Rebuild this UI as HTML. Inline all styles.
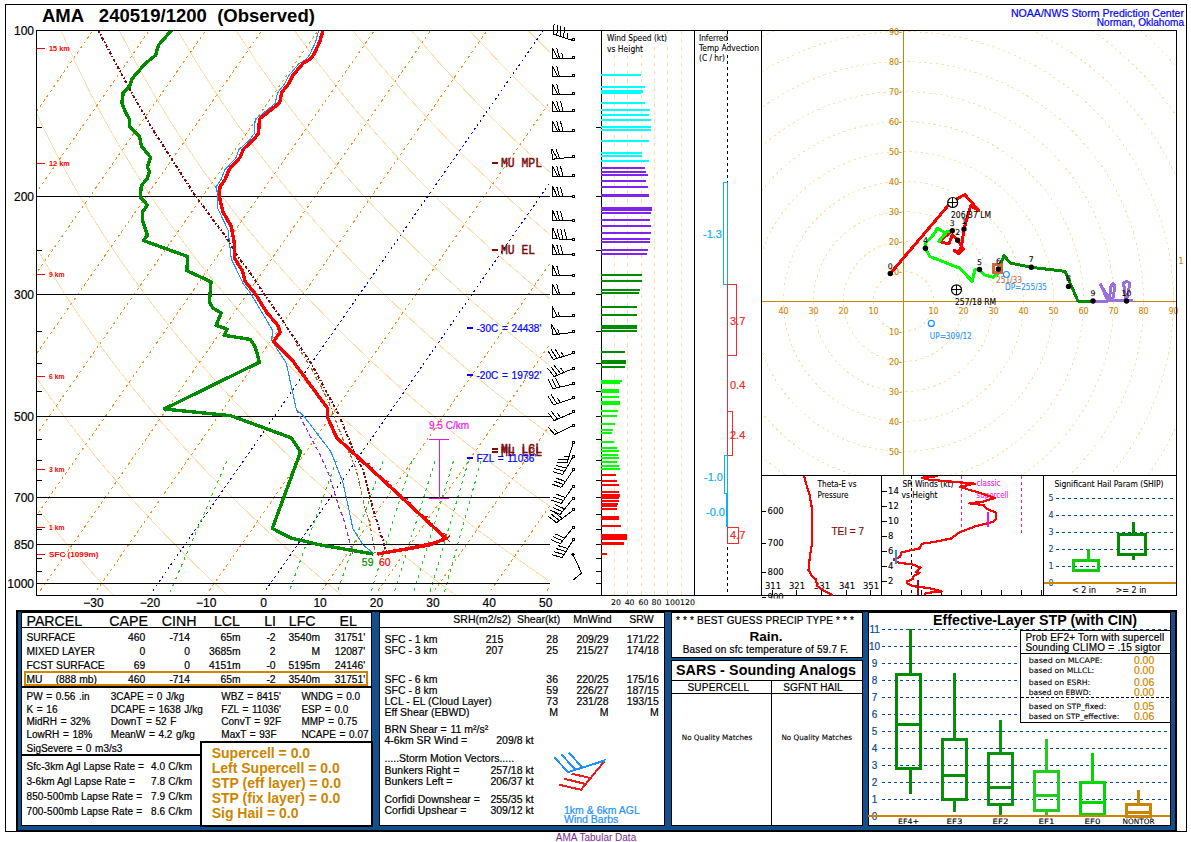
<!DOCTYPE html>
<html lang="en"><head><meta charset="utf-8"><title>AMA 240519/1200 (Observed)</title>
<style>
html,body{margin:0;padding:0;background:#fff;}
body{width:1191px;height:842px;overflow:hidden;}
svg{display:block;}
svg text{font-kerning:normal;}
.crisp{shape-rendering:crispEdges;}
</style></head><body>
<svg width="1191" height="842" viewBox="0 0 1191 842" shape-rendering="crispEdges">
<rect x="0" y="0" width="1191" height="842" fill="#fff"/>
<rect x="5.5" y="4.5" width="1181" height="827" fill="none" stroke="#000" stroke-width="1" class="crisp"/>
<text x="42" y="22" font-size="18.5" fill="#000" text-anchor="start" font-weight="bold" font-family="'Liberation Sans',sans-serif" xml:space="preserve" >AMA   240519/1200  (Observed)</text>
<text x="1184" y="17" font-size="10.6" fill="#0000ff" text-anchor="end" font-weight="normal" font-family="'Liberation Sans',sans-serif" xml:space="preserve" textLength="173" lengthAdjust="spacingAndGlyphs" stroke="#0000ff" stroke-width="0.2">NOAA/NWS Storm Prediction Center</text>
<text x="1184" y="26" font-size="10.4" fill="#0000ff" text-anchor="end" font-weight="normal" font-family="'Liberation Sans',sans-serif" xml:space="preserve" textLength="87.2" lengthAdjust="spacingAndGlyphs" stroke="#0000ff" stroke-width="0.2">Norman, Oklahoma</text>
<defs><clipPath id="skclip"><rect x="37" y="31" width="513" height="564"/></clipPath></defs>
<g clip-path="url(#skclip)">
<polyline points="-113.9,597.1 -116.2,593.7 -118.6,590.2 -120.9,586.7 -123.3,583.1 -125.7,579.5 -128.1,575.8 -130.6,572 -133,568.2 -135.5,564.4 -137.9,560.4 -140.4,556.4 -142.9,552.4 -145.5,548.2 -148,544 -150.6,539.8 -153.1,535.4 -155.7,531 -158.3,526.5 -161,521.9 -163.6,517.2 -166.3,512.4 -169,507.5 -171.7,502.5 -174.4,497.4 -177.2,492.2 -179.9,486.9 -182.7,481.4 -185.5,475.9 -188.3,470.2 -191.2,464.4 -194.1,458.4 -197,452.2 -199.9,445.9 -202.8,439.5 -205.8,432.8 -208.7,426 -211.7,419 -214.8,411.7 -217.8,404.3 -220.9,396.6 -224,388.6 -227.1,380.4 -230.2,371.8 -233.3,363 -236.5,353.8 -239.7,344.3 -242.9,334.3 -246.1,324 -249.3,313.1 -252.5,301.8 -255.7,289.8 -258.9,277.3 -262.1,264.1 -265.3,250.1 -268.4,235.2 -271.5,219.4 -274.5,202.4 -277.4,184.2 -280.1,164.4 -282.7,142.9 -285,119.2 -287,93 -288.4,63.6 -289.2,30" fill="none" stroke="#ffdead" stroke-width="1" />
<polyline points="0.6,597.1 -2.2,593.7 -5,590.2 -7.9,586.7 -10.7,583.1 -13.6,579.5 -16.5,575.8 -19.4,572 -22.4,568.2 -25.3,564.4 -28.3,560.4 -31.3,556.4 -34.4,552.4 -37.4,548.2 -40.5,544 -43.6,539.8 -46.7,535.4 -49.9,531 -53.1,526.5 -56.3,521.9 -59.5,517.2 -62.8,512.4 -66.1,507.5 -69.4,502.5 -72.7,497.4 -76.1,492.2 -79.5,486.9 -82.9,481.4 -86.4,475.9 -89.9,470.2 -93.4,464.4 -97,458.4 -100.6,452.2 -104.2,445.9 -107.9,439.5 -111.6,432.8 -115.3,426 -119.1,419 -122.9,411.7 -126.8,404.3 -130.7,396.6 -134.6,388.6 -138.6,380.4 -142.6,371.8 -146.7,363 -150.8,353.8 -154.9,344.3 -159.1,334.3 -163.3,324 -167.6,313.1 -171.9,301.8 -176.3,289.8 -180.7,277.3 -185.1,264.1 -189.5,250.1 -194,235.2 -198.4,219.4 -202.9,202.4 -207.3,184.2 -211.7,164.4 -216,142.9 -220.2,119.2 -224.1,93 -227.7,63.6 -230.8,30" fill="none" stroke="#ffdead" stroke-width="1" />
<polyline points="115.1,597.1 111.8,593.7 108.5,590.2 105.2,586.7 101.9,583.1 98.5,579.5 95.1,575.8 91.7,572 88.3,568.2 84.8,564.4 81.3,560.4 77.8,556.4 74.2,552.4 70.6,548.2 67,544 63.3,539.8 59.7,535.4 55.9,531 52.2,526.5 48.4,521.9 44.6,517.2 40.7,512.4 36.9,507.5 32.9,502.5 29,497.4 25,492.2 20.9,486.9 16.8,481.4 12.7,475.9 8.6,470.2 4.3,464.4 0.1,458.4 -4.2,452.2 -8.6,445.9 -13,439.5 -17.4,432.8 -21.9,426 -26.5,419 -31.1,411.7 -35.8,404.3 -40.5,396.6 -45.3,388.6 -50.1,380.4 -55,371.8 -60,363 -65.1,353.8 -70.2,344.3 -75.4,334.3 -80.6,324 -85.9,313.1 -91.3,301.8 -96.8,289.8 -102.4,277.3 -108,264.1 -113.7,250.1 -119.5,235.2 -125.4,219.4 -131.3,202.4 -137.3,184.2 -143.3,164.4 -149.3,142.9 -155.3,119.2 -161.2,93 -167,63.6 -172.5,30" fill="none" stroke="#ffdead" stroke-width="1" />
<polyline points="229.6,597.1 225.9,593.7 222.1,590.2 218.3,586.7 214.5,583.1 210.6,579.5 206.7,575.8 202.8,572 198.9,568.2 194.9,564.4 190.9,560.4 186.8,556.4 182.8,552.4 178.6,548.2 174.5,544 170.3,539.8 166,535.4 161.8,531 157.5,526.5 153.1,521.9 148.7,517.2 144.3,512.4 139.8,507.5 135.2,502.5 130.7,497.4 126,492.2 121.4,486.9 116.6,481.4 111.8,475.9 107,470.2 102.1,464.4 97.2,458.4 92.2,452.2 87.1,445.9 82,439.5 76.8,432.8 71.5,426 66.2,419 60.7,411.7 55.3,404.3 49.7,396.6 44.1,388.6 38.3,380.4 32.5,371.8 26.6,363 20.7,353.8 14.6,344.3 8.4,334.3 2.1,324 -4.3,313.1 -10.8,301.8 -17.4,289.8 -24.1,277.3 -31,264.1 -38,250.1 -45.1,235.2 -52.3,219.4 -59.7,202.4 -67.2,184.2 -74.8,164.4 -82.6,142.9 -90.4,119.2 -98.4,93 -106.3,63.6 -114.2,30" fill="none" stroke="#ffdead" stroke-width="1" />
<polyline points="344.1,597.1 339.9,593.7 335.7,590.2 331.4,586.7 327.1,583.1 322.7,579.5 318.4,575.8 314,572 309.5,568.2 305,564.4 300.5,560.4 295.9,556.4 291.3,552.4 286.7,548.2 282,544 277.2,539.8 272.4,535.4 267.6,531 262.7,526.5 257.8,521.9 252.8,517.2 247.8,512.4 242.7,507.5 237.6,502.5 232.4,497.4 227.1,492.2 221.8,486.9 216.4,481.4 211,475.9 205.5,470.2 199.9,464.4 194.2,458.4 188.5,452.2 182.7,445.9 176.9,439.5 170.9,432.8 164.9,426 158.8,419 152.6,411.7 146.3,404.3 139.9,396.6 133.4,388.6 126.8,380.4 120.1,371.8 113.3,363 106.4,353.8 99.3,344.3 92.2,334.3 84.9,324 77.4,313.1 69.8,301.8 62.1,289.8 54.2,277.3 46.1,264.1 37.8,250.1 29.4,235.2 20.8,219.4 11.9,202.4 2.9,184.2 -6.4,164.4 -15.9,142.9 -25.6,119.2 -35.5,93 -45.6,63.6 -55.9,30" fill="none" stroke="#ffdead" stroke-width="1" />
<polyline points="458.6,597.1 453.9,593.7 449.2,590.2 444.5,586.7 439.7,583.1 434.9,579.5 430,575.8 425.1,572 420.1,568.2 415.1,564.4 410.1,560.4 405,556.4 399.9,552.4 394.7,548.2 389.5,544 384.2,539.8 378.8,535.4 373.4,531 368,526.5 362.5,521.9 356.9,517.2 351.3,512.4 345.6,507.5 339.9,502.5 334,497.4 328.2,492.2 322.2,486.9 316.2,481.4 310.1,475.9 303.9,470.2 297.7,464.4 291.3,458.4 284.9,452.2 278.4,445.9 271.8,439.5 265.1,432.8 258.3,426 251.4,419 244.4,411.7 237.3,404.3 230.1,396.6 222.8,388.6 215.3,380.4 207.7,371.8 200,363 192.1,353.8 184.1,344.3 175.9,334.3 167.6,324 159.1,313.1 150.4,301.8 141.5,289.8 132.4,277.3 123.1,264.1 113.6,250.1 103.8,235.2 93.8,219.4 83.5,202.4 72.9,184.2 62,164.4 50.8,142.9 39.3,119.2 27.3,93 15.1,63.6 2.5,30" fill="none" stroke="#ffdead" stroke-width="1" />
<polyline points="573.1,597.1 567.9,593.7 562.8,590.2 557.5,586.7 552.3,583.1 547,579.5 541.6,575.8 536.2,572 530.8,568.2 525.3,564.4 519.7,560.4 514.1,556.4 508.4,552.4 502.7,548.2 496.9,544 491.1,539.8 485.2,535.4 479.3,531 473.3,526.5 467.2,521.9 461,517.2 454.8,512.4 448.5,507.5 442.2,502.5 435.7,497.4 429.2,492.2 422.6,486.9 416,481.4 409.2,475.9 402.4,470.2 395.4,464.4 388.4,458.4 381.3,452.2 374,445.9 366.7,439.5 359.3,432.8 351.7,426 344.1,419 336.3,411.7 328.3,404.3 320.3,396.6 312.1,388.6 303.8,380.4 295.3,371.8 286.6,363 277.8,353.8 268.9,344.3 259.7,334.3 250.3,324 240.8,313.1 231,301.8 221,289.8 210.7,277.3 200.2,264.1 189.4,250.1 178.3,235.2 166.9,219.4 155.1,202.4 143,184.2 130.5,164.4 117.5,142.9 104.1,119.2 90.2,93 75.8,63.6 60.8,30" fill="none" stroke="#ffdead" stroke-width="1" />
<polyline points="687.6,597.1 682,593.7 676.3,590.2 670.6,586.7 664.9,583.1 659.1,579.5 653.2,575.8 647.3,572 641.4,568.2 635.4,564.4 629.3,560.4 623.2,556.4 617,552.4 610.8,548.2 604.4,544 598.1,539.8 591.6,535.4 585.1,531 578.5,526.5 571.9,521.9 565.1,517.2 558.3,512.4 551.4,507.5 544.5,502.5 537.4,497.4 530.3,492.2 523.1,486.9 515.7,481.4 508.3,475.9 500.8,470.2 493.2,464.4 485.5,458.4 477.6,452.2 469.7,445.9 461.6,439.5 453.4,432.8 445.1,426 436.7,419 428.1,411.7 419.4,404.3 410.5,396.6 401.4,388.6 392.2,380.4 382.9,371.8 373.3,363 363.6,353.8 353.6,344.3 343.4,334.3 333.1,324 322.4,313.1 311.5,301.8 300.4,289.8 289,277.3 277.2,264.1 265.1,250.1 252.7,235.2 239.9,219.4 226.7,202.4 213,184.2 198.9,164.4 184.2,142.9 169,119.2 153.1,93 136.5,63.6 119.1,30" fill="none" stroke="#ffdead" stroke-width="1" />
<polyline points="802.1,597.1 796,593.7 789.9,590.2 783.7,586.7 777.5,583.1 771.2,579.5 764.9,575.8 758.5,572 752,568.2 745.5,564.4 738.9,560.4 732.3,556.4 725.6,552.4 718.8,548.2 711.9,544 705,539.8 698,535.4 690.9,531 683.8,526.5 676.6,521.9 669.2,517.2 661.8,512.4 654.4,507.5 646.8,502.5 639.1,497.4 631.3,492.2 623.5,486.9 615.5,481.4 607.4,475.9 599.3,470.2 591,464.4 582.5,458.4 574,452.2 565.3,445.9 556.6,439.5 547.6,432.8 538.5,426 529.3,419 519.9,411.7 510.4,404.3 500.7,396.6 490.8,388.6 480.7,380.4 470.4,371.8 460,363 449.3,353.8 438.4,344.3 427.2,334.3 415.8,324 404.1,313.1 392.1,301.8 379.8,289.8 367.2,277.3 354.3,264.1 340.9,250.1 327.2,235.2 313,219.4 298.3,202.4 283.1,184.2 267.3,164.4 250.9,142.9 233.8,119.2 215.9,93 197.2,63.6 177.4,30" fill="none" stroke="#ffdead" stroke-width="1" />
<polyline points="916.5,597.1 910,593.7 903.4,590.2 896.8,586.7 890.1,583.1 883.3,579.5 876.5,575.8 869.6,572 862.6,568.2 855.6,564.4 848.5,560.4 841.4,556.4 834.1,552.4 826.8,548.2 819.4,544 812,539.8 804.4,535.4 796.8,531 789.1,526.5 781.3,521.9 773.4,517.2 765.4,512.4 757.3,507.5 749.1,502.5 740.8,497.4 732.4,492.2 723.9,486.9 715.3,481.4 706.6,475.9 697.7,470.2 688.7,464.4 679.6,458.4 670.4,452.2 661,445.9 651.5,439.5 641.8,432.8 632,426 621.9,419 611.8,411.7 601.4,404.3 590.9,396.6 580.1,388.6 569.2,380.4 558,371.8 546.6,363 535,353.8 523.1,344.3 511,334.3 498.5,324 485.8,313.1 472.7,301.8 459.3,289.8 445.5,277.3 431.3,264.1 416.7,250.1 401.6,235.2 386,219.4 369.9,202.4 353.2,184.2 335.8,164.4 317.6,142.9 298.7,119.2 278.8,93 257.9,63.6 235.7,30" fill="none" stroke="#ffdead" stroke-width="1" />
<polyline points="1031,597.1 1024,593.7 1017,590.2 1009.9,586.7 1002.7,583.1 995.4,579.5 988.1,575.8 980.7,572 973.3,568.2 965.7,564.4 958.1,560.4 950.4,556.4 942.7,552.4 934.8,548.2 926.9,544 918.9,539.8 910.8,535.4 902.6,531 894.3,526.5 885.9,521.9 877.5,517.2 868.9,512.4 860.2,507.5 851.4,502.5 842.5,497.4 833.5,492.2 824.3,486.9 815.1,481.4 805.7,475.9 796.2,470.2 786.5,464.4 776.7,458.4 766.8,452.2 756.7,445.9 746.4,439.5 736,432.8 725.4,426 714.6,419 703.6,411.7 692.4,404.3 681.1,396.6 669.5,388.6 657.7,380.4 645.6,371.8 633.3,363 620.7,353.8 607.9,344.3 594.7,334.3 581.3,324 567.4,313.1 553.3,301.8 538.7,289.8 523.8,277.3 508.4,264.1 492.5,250.1 476.1,235.2 459.1,219.4 441.5,202.4 423.2,184.2 404.2,164.4 384.3,142.9 363.5,119.2 341.7,93 318.6,63.6 294.1,30" fill="none" stroke="#ffdead" stroke-width="1" />
<polyline points="1145.5,597.1 1138.1,593.7 1130.5,590.2 1122.9,586.7 1115.3,583.1 1107.6,579.5 1099.7,575.8 1091.9,572 1083.9,568.2 1075.9,564.4 1067.7,560.4 1059.5,556.4 1051.2,552.4 1042.9,548.2 1034.4,544 1025.8,539.8 1017.2,535.4 1008.4,531 999.6,526.5 990.6,521.9 981.6,517.2 972.4,512.4 963.1,507.5 953.7,502.5 944.2,497.4 934.5,492.2 924.8,486.9 914.9,481.4 904.8,475.9 894.6,470.2 884.3,464.4 873.8,458.4 863.1,452.2 852.3,445.9 841.3,439.5 830.1,432.8 818.8,426 807.2,419 795.5,411.7 783.5,404.3 771.3,396.6 758.8,388.6 746.1,380.4 733.2,371.8 720,363 706.5,353.8 692.6,344.3 678.5,334.3 664,324 649.1,313.1 633.9,301.8 618.2,289.8 602,277.3 585.4,264.1 568.2,250.1 550.5,235.2 532.2,219.4 513.1,202.4 493.3,184.2 472.6,164.4 451,142.9 428.4,119.2 404.5,93 379.3,63.6 352.4,30" fill="none" stroke="#ffdead" stroke-width="1" />
<polyline points="1260,597.1 1252.1,593.7 1244.1,590.2 1236,586.7 1227.9,583.1 1219.7,579.5 1211.4,575.8 1203,572 1194.5,568.2 1186,564.4 1177.3,560.4 1168.6,556.4 1159.8,552.4 1150.9,548.2 1141.9,544 1132.8,539.8 1123.6,535.4 1114.3,531 1104.9,526.5 1095.3,521.9 1085.7,517.2 1075.9,512.4 1066,507.5 1056,502.5 1045.9,497.4 1035.6,492.2 1025.2,486.9 1014.6,481.4 1003.9,475.9 993.1,470.2 982,464.4 970.9,458.4 959.5,452.2 948,445.9 936.2,439.5 924.3,432.8 912.2,426 899.8,419 887.3,411.7 874.5,404.3 861.5,396.6 848.2,388.6 834.6,380.4 820.8,371.8 806.6,363 792.2,353.8 777.4,344.3 762.2,334.3 746.7,324 730.8,313.1 714.4,301.8 697.6,289.8 680.3,277.3 662.5,264.1 644,250.1 625,235.2 605.2,219.4 584.7,202.4 563.3,184.2 541.1,164.4 517.7,142.9 493.2,119.2 467.4,93 440,63.6 410.7,30" fill="none" stroke="#ffdead" stroke-width="1" />
<polyline points="1374.5,597.1 1366.1,593.7 1357.7,590.2 1349.1,586.7 1340.5,583.1 1331.8,579.5 1323,575.8 1314.1,572 1305.2,568.2 1296.1,564.4 1287,560.4 1277.7,556.4 1268.4,552.4 1258.9,548.2 1249.4,544 1239.7,539.8 1230,535.4 1220.1,531 1210.1,526.5 1200,521.9 1189.8,517.2 1179.4,512.4 1168.9,507.5 1158.3,502.5 1147.6,497.4 1136.7,492.2 1125.6,486.9 1114.4,481.4 1103,475.9 1091.5,470.2 1079.8,464.4 1067.9,458.4 1055.9,452.2 1043.6,445.9 1031.1,439.5 1018.5,432.8 1005.6,426 992.5,419 979.1,411.7 965.5,404.3 951.7,396.6 937.5,388.6 923.1,380.4 908.4,371.8 893.3,363 877.9,353.8 862.1,344.3 846,334.3 829.4,324 812.5,313.1 795,301.8 777.1,289.8 758.6,277.3 739.5,264.1 719.8,250.1 699.4,235.2 678.3,219.4 656.3,202.4 633.4,184.2 609.5,164.4 584.4,142.9 558.1,119.2 530.2,93 500.7,63.6 469,30" fill="none" stroke="#ffdead" stroke-width="1" />
<polyline points="1489,597.1 1480.1,593.7 1471.2,590.2 1462.2,586.7 1453.1,583.1 1443.9,579.5 1434.6,575.8 1425.2,572 1415.8,568.2 1406.2,564.4 1396.6,560.4 1386.8,556.4 1376.9,552.4 1367,548.2 1356.9,544 1346.7,539.8 1336.4,535.4 1325.9,531 1315.4,526.5 1304.7,521.9 1293.9,517.2 1283,512.4 1271.9,507.5 1260.6,502.5 1249.3,497.4 1237.7,492.2 1226,486.9 1214.2,481.4 1202.2,475.9 1190,470.2 1177.6,464.4 1165,458.4 1152.2,452.2 1139.3,445.9 1126.1,439.5 1112.7,432.8 1099,426 1085.1,419 1071,411.7 1056.6,404.3 1041.9,396.6 1026.9,388.6 1011.6,380.4 995.9,371.8 980,363 963.6,353.8 946.9,344.3 929.8,334.3 912.2,324 894.1,313.1 875.6,301.8 856.5,289.8 836.8,277.3 816.5,264.1 795.6,250.1 773.9,235.2 751.3,219.4 727.9,202.4 703.5,184.2 677.9,164.4 651.1,142.9 622.9,119.2 593.1,93 561.3,63.6 527.3,30" fill="none" stroke="#ffdead" stroke-width="1" />
<polyline points="1603.5,597.1 1594.2,593.7 1584.8,590.2 1575.3,586.7 1565.7,583.1 1556,579.5 1546.2,575.8 1536.4,572 1526.4,568.2 1516.3,564.4 1506.2,560.4 1495.9,556.4 1485.5,552.4 1475,548.2 1464.4,544 1453.6,539.8 1442.8,535.4 1431.8,531 1420.7,526.5 1409.4,521.9 1398,517.2 1386.5,512.4 1374.8,507.5 1362.9,502.5 1351,497.4 1338.8,492.2 1326.5,486.9 1314,481.4 1301.3,475.9 1288.4,470.2 1275.4,464.4 1262.1,458.4 1248.6,452.2 1234.9,445.9 1221,439.5 1206.8,432.8 1192.4,426 1177.7,419 1162.8,411.7 1147.6,404.3 1132.1,396.6 1116.2,388.6 1100,380.4 1083.5,371.8 1066.6,363 1049.3,353.8 1031.7,344.3 1013.5,334.3 994.9,324 975.8,313.1 956.2,301.8 935.9,289.8 915.1,277.3 893.6,264.1 871.3,250.1 848.3,235.2 824.4,219.4 799.5,202.4 773.5,184.2 746.4,164.4 717.9,142.9 687.8,119.2 656,93 622,63.6 585.7,30" fill="none" stroke="#ffdead" stroke-width="1" />
<polyline points="1718,597.1 1708.2,593.7 1698.3,590.2 1688.3,586.7 1678.3,583.1 1668.1,579.5 1657.9,575.8 1647.5,572 1637,568.2 1626.5,564.4 1615.8,560.4 1605,556.4 1594.1,552.4 1583,548.2 1571.9,544 1560.6,539.8 1549.2,535.4 1537.6,531 1525.9,526.5 1514.1,521.9 1502.1,517.2 1490,512.4 1477.7,507.5 1465.3,502.5 1452.6,497.4 1439.9,492.2 1426.9,486.9 1413.7,481.4 1400.4,475.9 1386.9,470.2 1373.1,464.4 1359.2,458.4 1345,452.2 1330.6,445.9 1315.9,439.5 1301,432.8 1285.8,426 1270.4,419 1254.6,411.7 1238.6,404.3 1222.2,396.6 1205.6,388.6 1188.5,380.4 1171.1,371.8 1153.3,363 1135.1,353.8 1116.4,344.3 1097.3,334.3 1077.6,324 1057.5,313.1 1036.7,301.8 1015.4,289.8 993.4,277.3 970.6,264.1 947.1,250.1 922.7,235.2 897.4,219.4 871.1,202.4 843.6,184.2 814.8,164.4 784.6,142.9 752.6,119.2 718.8,93 682.7,63.6 644,30" fill="none" stroke="#ffdead" stroke-width="1" />
<polyline points="1832.5,597.1 1822.2,593.7 1811.9,590.2 1801.4,586.7 1790.9,583.1 1780.2,579.5 1769.5,575.8 1758.6,572 1747.7,568.2 1736.6,564.4 1725.4,560.4 1714.1,556.4 1702.6,552.4 1691,548.2 1679.4,544 1667.5,539.8 1655.6,535.4 1643.4,531 1631.2,526.5 1618.8,521.9 1606.2,517.2 1593.5,512.4 1580.6,507.5 1567.6,502.5 1554.3,497.4 1540.9,492.2 1527.3,486.9 1513.5,481.4 1499.5,475.9 1485.3,470.2 1470.9,464.4 1456.2,458.4 1441.4,452.2 1426.2,445.9 1410.8,439.5 1395.2,432.8 1379.2,426 1363,419 1346.5,411.7 1329.6,404.3 1312.4,396.6 1294.9,388.6 1277,380.4 1258.7,371.8 1240,363 1220.8,353.8 1201.2,344.3 1181,334.3 1160.4,324 1139.2,313.1 1117.3,301.8 1094.8,289.8 1071.6,277.3 1047.7,264.1 1022.9,250.1 997.2,235.2 970.5,219.4 942.7,202.4 913.6,184.2 883.2,164.4 851.3,142.9 817.5,119.2 781.7,93 743.4,63.6 702.3,30" fill="none" stroke="#ffdead" stroke-width="1" />
<polyline points="1947,597.1 1936.2,593.7 1925.4,590.2 1914.5,586.7 1903.5,583.1 1892.4,579.5 1881.1,575.8 1869.8,572 1858.3,568.2 1846.7,564.4 1835,560.4 1823.1,556.4 1811.2,552.4 1799.1,548.2 1786.8,544 1774.5,539.8 1761.9,535.4 1749.3,531 1736.5,526.5 1723.5,521.9 1710.3,517.2 1697,512.4 1683.5,507.5 1669.9,502.5 1656,497.4 1642,492.2 1627.7,486.9 1613.3,481.4 1598.6,475.9 1583.8,470.2 1568.7,464.4 1553.3,458.4 1537.7,452.2 1521.9,445.9 1505.7,439.5 1489.3,432.8 1472.7,426 1455.6,419 1438.3,411.7 1420.7,404.3 1402.6,396.6 1384.2,388.6 1365.5,380.4 1346.3,371.8 1326.6,363 1306.5,353.8 1285.9,344.3 1264.8,334.3 1243.1,324 1220.8,313.1 1197.9,301.8 1174.3,289.8 1149.9,277.3 1124.7,264.1 1098.7,250.1 1071.6,235.2 1043.5,219.4 1014.3,202.4 983.7,184.2 951.7,164.4 918,142.9 882.4,119.2 844.5,93 804.1,63.6 760.6,30" fill="none" stroke="#ffdead" stroke-width="1" />
<polyline points="2061.4,597.1 2050.3,593.7 2039,590.2 2027.6,586.7 2016.1,583.1 2004.5,579.5 1992.7,575.8 1980.9,572 1968.9,568.2 1956.8,564.4 1944.6,560.4 1932.2,556.4 1919.7,552.4 1907.1,548.2 1894.3,544 1881.4,539.8 1868.3,535.4 1855.1,531 1841.7,526.5 1828.2,521.9 1814.4,517.2 1800.5,512.4 1786.5,507.5 1772.2,502.5 1757.7,497.4 1743,492.2 1728.2,486.9 1713.1,481.4 1697.8,475.9 1682.2,470.2 1666.4,464.4 1650.4,458.4 1634.1,452.2 1617.5,445.9 1600.7,439.5 1583.5,432.8 1566.1,426 1548.3,419 1530.2,411.7 1511.7,404.3 1492.8,396.6 1473.6,388.6 1453.9,380.4 1433.8,371.8 1413.3,363 1392.2,353.8 1370.7,344.3 1348.6,334.3 1325.8,324 1302.5,313.1 1278.5,301.8 1253.7,289.8 1228.2,277.3 1201.8,264.1 1174.4,250.1 1146.1,235.2 1116.6,219.4 1085.9,202.4 1053.8,184.2 1020.1,164.4 984.7,142.9 947.2,119.2 907.4,93 864.8,63.6 819,30" fill="none" stroke="#ffdead" stroke-width="1" />
<polyline points="2175.9,597.1 2164.3,593.7 2152.5,590.2 2140.7,586.7 2128.7,583.1 2116.6,579.5 2104.4,575.8 2092,572 2079.5,568.2 2066.9,564.4 2054.2,560.4 2041.3,556.4 2028.3,552.4 2015.1,548.2 2001.8,544 1988.4,539.8 1974.7,535.4 1960.9,531 1947,526.5 1932.9,521.9 1918.5,517.2 1904.1,512.4 1889.4,507.5 1874.5,502.5 1859.4,497.4 1844.1,492.2 1828.6,486.9 1812.9,481.4 1796.9,475.9 1780.7,470.2 1764.2,464.4 1747.5,458.4 1730.5,452.2 1713.2,445.9 1695.6,439.5 1677.7,432.8 1659.5,426 1640.9,419 1622,411.7 1602.7,404.3 1583,396.6 1562.9,388.6 1542.4,380.4 1521.4,371.8 1500,363 1478,353.8 1455.4,344.3 1432.3,334.3 1408.6,324 1384.2,313.1 1359.1,301.8 1333.2,289.8 1306.4,277.3 1278.8,264.1 1250.2,250.1 1220.5,235.2 1189.7,219.4 1157.5,202.4 1123.8,184.2 1088.5,164.4 1051.4,142.9 1012.1,119.2 970.3,93 925.5,63.6 877.3,30" fill="none" stroke="#ffdead" stroke-width="1" />
<polyline points="2290.4,597.1 2278.3,593.7 2266.1,590.2 2253.7,586.7 2241.3,583.1 2228.7,579.5 2216,575.8 2203.1,572 2190.2,568.2 2177.1,564.4 2163.8,560.4 2150.4,556.4 2136.9,552.4 2123.2,548.2 2109.3,544 2095.3,539.8 2081.1,535.4 2066.8,531 2052.3,526.5 2037.5,521.9 2022.7,517.2 2007.6,512.4 1992.3,507.5 1976.8,502.5 1961.1,497.4 1945.2,492.2 1929,486.9 1912.6,481.4 1896,475.9 1879.1,470.2 1862,464.4 1844.5,458.4 1826.8,452.2 1808.8,445.9 1790.5,439.5 1771.9,432.8 1752.9,426 1733.5,419 1713.8,411.7 1693.7,404.3 1673.2,396.6 1652.3,388.6 1630.9,380.4 1609,371.8 1586.6,363 1563.7,353.8 1540.2,344.3 1516.1,334.3 1491.3,324 1465.8,313.1 1439.6,301.8 1412.6,289.8 1384.7,277.3 1355.9,264.1 1326,250.1 1295,235.2 1262.7,219.4 1229.1,202.4 1193.9,184.2 1157,164.4 1118.1,142.9 1076.9,119.2 1033.1,93 986.2,63.6 935.6,30" fill="none" stroke="#ffdead" stroke-width="1" />
<line x1="-691.5" y1="590.5" x2="-300.8" y2="30" stroke="#ff8c14" stroke-width="1.0" stroke-dasharray="2.6 3.3"/>
<line x1="-635.2" y1="590.5" x2="-244.5" y2="30" stroke="#ff8c14" stroke-width="1.0" stroke-dasharray="2.6 3.3"/>
<line x1="-578.9" y1="590.5" x2="-188.2" y2="30" stroke="#ff8c14" stroke-width="1.0" stroke-dasharray="2.6 3.3"/>
<line x1="-522.6" y1="590.5" x2="-131.9" y2="30" stroke="#ff8c14" stroke-width="1.0" stroke-dasharray="2.6 3.3"/>
<line x1="-466.3" y1="590.5" x2="-75.6" y2="30" stroke="#ff8c14" stroke-width="1.0" stroke-dasharray="2.6 3.3"/>
<line x1="-410" y1="590.5" x2="-19.3" y2="30" stroke="#ff8c14" stroke-width="1.0" stroke-dasharray="2.6 3.3"/>
<line x1="-353.7" y1="590.5" x2="37" y2="30" stroke="#ff8c14" stroke-width="1.0" stroke-dasharray="2.6 3.3"/>
<line x1="-297.4" y1="590.5" x2="93.3" y2="30" stroke="#ff8c14" stroke-width="1.0" stroke-dasharray="2.6 3.3"/>
<line x1="-241.1" y1="590.5" x2="149.6" y2="30" stroke="#ff8c14" stroke-width="1.0" stroke-dasharray="2.6 3.3"/>
<line x1="-184.8" y1="590.5" x2="205.9" y2="30" stroke="#ff8c14" stroke-width="1.0" stroke-dasharray="2.6 3.3"/>
<line x1="-128.5" y1="590.5" x2="262.2" y2="30" stroke="#ff8c14" stroke-width="1.0" stroke-dasharray="2.6 3.3"/>
<line x1="-72.2" y1="590.5" x2="318.5" y2="30" stroke="#ff8c14" stroke-width="1.0" stroke-dasharray="2.6 3.3"/>
<line x1="-15.9" y1="590.5" x2="374.8" y2="30" stroke="#ff8c14" stroke-width="1.0" stroke-dasharray="2.6 3.3"/>
<line x1="40.4" y1="590.5" x2="431.1" y2="30" stroke="#ff8c14" stroke-width="1.0" stroke-dasharray="2.6 3.3"/>
<line x1="96.7" y1="590.5" x2="487.4" y2="30" stroke="#ff8c14" stroke-width="1.0" stroke-dasharray="2.6 3.3"/>
<line x1="153" y1="590.5" x2="543.7" y2="30" stroke="#0000ff" stroke-width="1.0" stroke-dasharray="2.2 3"/>
<line x1="209.3" y1="590.5" x2="600" y2="30" stroke="#ff8c14" stroke-width="1.0" stroke-dasharray="2.6 3.3"/>
<line x1="265.6" y1="590.5" x2="656.3" y2="30" stroke="#0000ff" stroke-width="1.0" stroke-dasharray="2.2 3"/>
<line x1="321.9" y1="590.5" x2="712.6" y2="30" stroke="#ff8c14" stroke-width="1.0" stroke-dasharray="2.6 3.3"/>
<line x1="378.2" y1="590.5" x2="768.9" y2="30" stroke="#ff8c14" stroke-width="1.0" stroke-dasharray="2.6 3.3"/>
<line x1="434.5" y1="590.5" x2="825.2" y2="30" stroke="#ff8c14" stroke-width="1.0" stroke-dasharray="2.6 3.3"/>
<line x1="490.8" y1="590.5" x2="881.5" y2="30" stroke="#ff8c14" stroke-width="1.0" stroke-dasharray="2.6 3.3"/>
<line x1="547.1" y1="590.5" x2="937.8" y2="30" stroke="#ff8c14" stroke-width="1.0" stroke-dasharray="2.6 3.3"/>
<line x1="226.8" y1="461" x2="169.5" y2="593.5" stroke="#1fcf1f" stroke-width="1.05" stroke-dasharray="3 4"/>
<line x1="336.2" y1="461" x2="288.5" y2="593.5" stroke="#1fcf1f" stroke-width="1.05" stroke-dasharray="3 4"/>
<line x1="383" y1="461" x2="336.7" y2="593.5" stroke="#1fcf1f" stroke-width="1.05" stroke-dasharray="3 4"/>
<line x1="411.8" y1="461" x2="370.5" y2="593.5" stroke="#1fcf1f" stroke-width="1.05" stroke-dasharray="3 4"/>
<line x1="435" y1="461" x2="394" y2="593.5" stroke="#1fcf1f" stroke-width="1.05" stroke-dasharray="3 4"/>
<line x1="453.5" y1="461" x2="413.2" y2="593.5" stroke="#1fcf1f" stroke-width="1.05" stroke-dasharray="3 4"/>
<line x1="468.5" y1="461" x2="429.5" y2="593.5" stroke="#1fcf1f" stroke-width="1.05" stroke-dasharray="3 4"/>
<line x1="481" y1="461" x2="444" y2="593.5" stroke="#1fcf1f" stroke-width="1.05" stroke-dasharray="3 4"/>
</g>
<rect x="36" y="196" width="514" height="1" fill="#000" />
<rect x="36" y="294" width="514" height="1" fill="#000" />
<rect x="36" y="416" width="514" height="1" fill="#000" />
<rect x="36" y="497" width="514" height="1" fill="#000" />
<rect x="36" y="544" width="514" height="1" fill="#000" />
<rect x="36" y="583" width="514" height="1" fill="#000" />
<rect x="36" y="30" width="1141" height="1" fill="#000" />
<rect x="36" y="30" width="1" height="565" fill="#000" />
<rect x="36" y="595" width="565" height="1" fill="#000" />
<rect x="36" y="127" width="6" height="1" fill="#000" />
<rect x="36" y="250" width="6" height="1" fill="#000" />
<rect x="36" y="331" width="6" height="1" fill="#000" />
<rect x="36" y="363" width="6" height="1" fill="#000" />
<rect x="36" y="391" width="6" height="1" fill="#000" />
<rect x="36" y="439" width="6" height="1" fill="#000" />
<rect x="36" y="460" width="6" height="1" fill="#000" />
<rect x="36" y="480" width="6" height="1" fill="#000" />
<rect x="36" y="514" width="6" height="1" fill="#000" />
<rect x="36" y="529" width="6" height="1" fill="#000" />
<rect x="36" y="558" width="6" height="1" fill="#000" />
<rect x="36" y="571" width="6" height="1" fill="#000" />
<text x="34" y="35" font-size="12" fill="#000" text-anchor="end" font-weight="normal" font-family="'Liberation Sans',sans-serif" xml:space="preserve"  stroke="#000" stroke-width="0.2">100</text>
<text x="34" y="201" font-size="12" fill="#000" text-anchor="end" font-weight="normal" font-family="'Liberation Sans',sans-serif" xml:space="preserve"  stroke="#000" stroke-width="0.2">200</text>
<text x="34" y="299" font-size="12" fill="#000" text-anchor="end" font-weight="normal" font-family="'Liberation Sans',sans-serif" xml:space="preserve"  stroke="#000" stroke-width="0.2">300</text>
<text x="34" y="421" font-size="12" fill="#000" text-anchor="end" font-weight="normal" font-family="'Liberation Sans',sans-serif" xml:space="preserve"  stroke="#000" stroke-width="0.2">500</text>
<text x="34" y="502" font-size="12" fill="#000" text-anchor="end" font-weight="normal" font-family="'Liberation Sans',sans-serif" xml:space="preserve"  stroke="#000" stroke-width="0.2">700</text>
<text x="34" y="549" font-size="12" fill="#000" text-anchor="end" font-weight="normal" font-family="'Liberation Sans',sans-serif" xml:space="preserve"  stroke="#000" stroke-width="0.2">850</text>
<text x="34" y="588" font-size="12" fill="#000" text-anchor="end" font-weight="normal" font-family="'Liberation Sans',sans-serif" xml:space="preserve"  stroke="#000" stroke-width="0.2">1000</text>
<text x="93.5" y="607" font-size="12" fill="#000" text-anchor="middle" font-weight="normal" font-family="'Liberation Sans',sans-serif" xml:space="preserve"  stroke="#000" stroke-width="0.2">−30</text>
<text x="149.9" y="607" font-size="12" fill="#000" text-anchor="middle" font-weight="normal" font-family="'Liberation Sans',sans-serif" xml:space="preserve"  stroke="#000" stroke-width="0.2">−20</text>
<text x="206.3" y="607" font-size="12" fill="#000" text-anchor="middle" font-weight="normal" font-family="'Liberation Sans',sans-serif" xml:space="preserve"  stroke="#000" stroke-width="0.2">−10</text>
<text x="263.7" y="607" font-size="12" fill="#000" text-anchor="middle" font-weight="normal" font-family="'Liberation Sans',sans-serif" xml:space="preserve"  stroke="#000" stroke-width="0.2">0</text>
<text x="320.1" y="607" font-size="12" fill="#000" text-anchor="middle" font-weight="normal" font-family="'Liberation Sans',sans-serif" xml:space="preserve"  stroke="#000" stroke-width="0.2">10</text>
<text x="376.5" y="607" font-size="12" fill="#000" text-anchor="middle" font-weight="normal" font-family="'Liberation Sans',sans-serif" xml:space="preserve"  stroke="#000" stroke-width="0.2">20</text>
<text x="432.9" y="607" font-size="12" fill="#000" text-anchor="middle" font-weight="normal" font-family="'Liberation Sans',sans-serif" xml:space="preserve"  stroke="#000" stroke-width="0.2">30</text>
<text x="489.3" y="607" font-size="12" fill="#000" text-anchor="middle" font-weight="normal" font-family="'Liberation Sans',sans-serif" xml:space="preserve"  stroke="#000" stroke-width="0.2">40</text>
<text x="545.7" y="607" font-size="12" fill="#000" text-anchor="middle" font-weight="normal" font-family="'Liberation Sans',sans-serif" xml:space="preserve"  stroke="#000" stroke-width="0.2">50</text>
<g clip-path="url(#skclip)">
<polyline points="296.4,409.6 313.7,443 320.7,456 328.8,474.3 339.8,509.6 342.9,516.7 353,554" fill="none" stroke="#9b30d8" stroke-width="1.2" stroke-dasharray="4 3"/>
<polyline points="318.7,30.5 315.7,41.6 309.7,54.8 305.6,59.8 298.6,63.9 288.5,76 284.4,84 277.4,93.1 275.3,103.2 269.3,108.3 255.2,119.4 254.2,133.5 250.1,139.5 239,149.6 236,157.7 224.9,169.8 220.8,179.9 215.8,187 217,190 217.7,208.2 228.2,230.4 231.2,258.6 243.3,283.9 250.4,293 272.6,330.3 271.6,340.4 286.3,363.2 296.4,409.6 303.5,415.7 329.7,450 331.8,454 342.9,482.4 348.9,509.6 353,528.8 363.1,545 374.2,554" fill="none" stroke="#1e90ff" stroke-width="1.1" />
<polyline points="296,344 310,366 328,400 341.9,436.9 352,459 356,469.2 361,490.5 365.1,509.6 369.2,520.7 375.2,553" fill="none" stroke="#b4641e" stroke-width="1.2" stroke-dasharray="4 2 1.5 2"/>
<polyline points="98,30 128.3,86.6 150.5,126 193.9,193.6 229.2,241.5 234.2,251.6 249.4,271.8 263.5,293 281.7,319.2 301.9,349.5 311.6,364.2 338.8,414.7 354,452 363.1,470.3 371.2,502.6 386.3,552" fill="none" stroke="#7a0d0d" stroke-width="2" stroke-dasharray="3.2 1.8 1.4 1.8"/>
<polyline points="171.7,30 158.5,45.2 155.5,55.3 145.4,63.4 132.3,78.5 129.3,86.6 123.2,92.6 121.8,102.7 125.2,111.8 129.3,118.9 129.9,126.9 139.4,136 141.4,146.1 150.5,157.2 147.4,167.3 149.5,171.3 147.4,178.4 141.4,185.5 140.4,194.6 140.4,197 147.4,205.1 142.4,212.2 142.4,220.3 147.4,235.4 143.4,240.5 187.8,256.6 186.8,270.7 211,281.8 209.4,302 213,308.1 221.1,313.1 216.1,325.2 227.2,329.3 224.1,335.3 250.4,339.4 255.4,347.5 259.5,362.2 164.2,409 230.8,415.7 291.4,437.9 300.5,452 272.3,528.4 290.5,537.9 320.7,545 373.2,554" fill="none" stroke="#008b00" stroke-width="3.4" stroke-linejoin="round"/>
<polyline points="323,30 320,41.1 314,54.3 309.9,59.3 302.9,63.4 292.8,75.5 288.7,83.5 281.7,92.6 279.6,102.7 273.6,107.8 259.5,118.9 258.5,133 254.4,139 243.3,149.1 240.3,157.2 229.2,169.3 225.1,179.4 220.1,186.5 219.1,194.6 220.1,200.1 223.1,212.2 231.2,226.3 234.2,242.5 234.8,258.6 242.3,270.7 245.3,281.8 255.4,294 266.5,312.1 277.6,325.2 280.1,332.3 273.6,341.4 291.8,359.6 327.7,408.6 327.7,417.7 336.8,437.9 380,477.3 445.9,538.5 429.7,545 377.3,554" fill="none" stroke="#ff0000" stroke-width="3.4" stroke-linejoin="round"/>
<polyline points="352,452 356,453.5 355.8,455.5 358.8,457.1 359.7,459.1 361.6,460.8 363.5,462.6 369.6,463.7 367.3,466.1 372.4,467.4 371.2,469.7 375.2,471.1 375,473.2 378,474.8 378.8,476.7 380.7,478.5 382.7,480.2 388.8,481.4 386.5,483.8 391.6,485.1 390.3,487.3 394.3,488.8 394.2,490.8 397.1,492.4 398,494.4 399.9,496.1 401.8,497.9 407.9,499 405.7,501.4 410.7,502.7 409.5,505 413.5,506.4 413.3,508.5 416.3,510.1 417.2,512 419.1,513.8 421,515.6 427.1,516.7 424.8,519.1 429.9,520.4 428.7,522.6 432.7,524.1 432.5,526.1 435.5,527.8 436.3,529.7 438.2,531.4 440.2,533.2 446.3,534.3 444,536.7 449,538" fill="none" stroke="#ff0000" stroke-width="1" />
<polyline points="445,539.5 443.9,539.8 439.8,540.6 437.9,541.1 434.6,541.7 432,542.3 429.4,542.9 429.8,543 424.2,544 423.9,544.2 419,545.1 417.9,545.4 413.8,546.2 411.9,546.7 408.6,547.3 406,547.9 403.4,548.5 403.8,548.6 398.2,549.6 397.9,549.8 393,550.7 391.9,551 387.8,551.8 385.9,552.3 382.6,552.9 380,553.5" fill="none" stroke="#ff0000" stroke-width="1" />
<path d="M443,535 L450,542 M450,535.5 L443,541.5" stroke="#ff0000" stroke-width="1"/>
</g>
<text x="373.5" y="566" font-size="10.5" fill="#008b00" text-anchor="end" font-weight="normal" font-family="'Liberation Sans',sans-serif" xml:space="preserve"  stroke="#008b00" stroke-width="0.2">59</text>
<text x="379" y="566" font-size="10.5" fill="#ff0000" text-anchor="start" font-weight="normal" font-family="'Liberation Sans',sans-serif" xml:space="preserve"  stroke="#ff0000" stroke-width="0.2">60</text>
<rect x="37" y="48" width="8" height="1" fill="#ff0000" />
<text x="49" y="51" font-size="7.8" fill="#ff0000" text-anchor="start" font-weight="bold" font-family="'Liberation Sans',sans-serif" xml:space="preserve" textLength="20.7" lengthAdjust="spacingAndGlyphs">15 km</text>
<rect x="37" y="163" width="8" height="1" fill="#ff0000" />
<text x="49" y="166" font-size="7.8" fill="#ff0000" text-anchor="start" font-weight="bold" font-family="'Liberation Sans',sans-serif" xml:space="preserve" textLength="20.7" lengthAdjust="spacingAndGlyphs">12 km</text>
<rect x="37" y="274" width="8" height="1" fill="#ff0000" />
<text x="49" y="277" font-size="7.8" fill="#ff0000" text-anchor="start" font-weight="bold" font-family="'Liberation Sans',sans-serif" xml:space="preserve" textLength="15.5" lengthAdjust="spacingAndGlyphs">9 km</text>
<rect x="37" y="376" width="8" height="1" fill="#ff0000" />
<text x="49" y="379" font-size="7.8" fill="#ff0000" text-anchor="start" font-weight="bold" font-family="'Liberation Sans',sans-serif" xml:space="preserve" textLength="15.5" lengthAdjust="spacingAndGlyphs">6 km</text>
<rect x="37" y="469" width="8" height="1" fill="#ff0000" />
<text x="49" y="472" font-size="7.8" fill="#ff0000" text-anchor="start" font-weight="bold" font-family="'Liberation Sans',sans-serif" xml:space="preserve" textLength="15.5" lengthAdjust="spacingAndGlyphs">3 km</text>
<rect x="37" y="527" width="8" height="1" fill="#ff0000" />
<text x="49" y="530" font-size="7.8" fill="#ff0000" text-anchor="start" font-weight="bold" font-family="'Liberation Sans',sans-serif" xml:space="preserve" textLength="15.5" lengthAdjust="spacingAndGlyphs">1 km</text>
<rect x="37" y="554" width="8" height="1" fill="#ff0000" />
<text x="49" y="557" font-size="7.8" fill="#ff0000" text-anchor="start" font-weight="bold" font-family="'Liberation Sans',sans-serif" xml:space="preserve" textLength="49.4" lengthAdjust="spacingAndGlyphs">SFC (1099m)</text>
<rect x="491.5" y="162" width="6" height="2" fill="#7a0d0d" />
<text x="501" y="167" font-size="12" fill="#7a0d0d" text-anchor="start" font-weight="normal" font-family="'Liberation Mono',monospace" xml:space="preserve" textLength="41" lengthAdjust="spacingAndGlyphs" stroke="#7a0d0d" stroke-width="0.45">MU MPL</text>
<rect x="491.5" y="249" width="6" height="2" fill="#7a0d0d" />
<text x="501" y="254" font-size="12" fill="#7a0d0d" text-anchor="start" font-weight="normal" font-family="'Liberation Mono',monospace" xml:space="preserve" textLength="34" lengthAdjust="spacingAndGlyphs" stroke="#7a0d0d" stroke-width="0.45">MU EL</text>
<rect x="491.5" y="448" width="6" height="2" fill="#7a0d0d" />
<text x="501" y="453" font-size="12" fill="#7a0d0d" text-anchor="start" font-weight="normal" font-family="'Liberation Mono',monospace" xml:space="preserve" textLength="41" lengthAdjust="spacingAndGlyphs" stroke="#7a0d0d" stroke-width="0.45">ML LCL</text>
<rect x="491.5" y="451" width="6" height="2" fill="#7a0d0d" />
<text x="501" y="456" font-size="12" fill="#7a0d0d" text-anchor="start" font-weight="normal" font-family="'Liberation Mono',monospace" xml:space="preserve" textLength="41" lengthAdjust="spacingAndGlyphs" stroke="#7a0d0d" stroke-width="0.45">MU LCL</text>
<rect x="466.5" y="327" width="6" height="2" fill="#0000ff" />
<text x="476.5" y="331.5" font-size="10" fill="#0000ff" text-anchor="start" font-weight="normal" font-family="'Liberation Sans',sans-serif" xml:space="preserve" word-spacing="1" stroke="#0000ff" stroke-width="0.2">-30C = 24438'</text>
<rect x="466.5" y="374" width="6" height="2" fill="#0000ff" />
<text x="476.5" y="378.5" font-size="10" fill="#0000ff" text-anchor="start" font-weight="normal" font-family="'Liberation Sans',sans-serif" xml:space="preserve" word-spacing="1" stroke="#0000ff" stroke-width="0.2">-20C = 19792'</text>
<rect x="466.5" y="457" width="6" height="2" fill="#0000ff" />
<text x="476.5" y="461.5" font-size="10" fill="#0000ff" text-anchor="start" font-weight="normal" font-family="'Liberation Sans',sans-serif" xml:space="preserve" word-spacing="1" stroke="#0000ff" stroke-width="0.2">FZL = 11036'</text>
<text x="429" y="428.5" font-size="10" fill="#ee11ee" text-anchor="start" font-weight="normal" font-family="'Liberation Sans',sans-serif" xml:space="preserve"  stroke="#ee11ee" stroke-width="0.2">9.5 C/km</text>
<rect x="439" y="439" width="1" height="59" fill="#ee11ee" />
<rect x="429" y="439" width="20" height="1" fill="#ee11ee" />
<rect x="429" y="498" width="20" height="1" fill="#ee11ee" />
<path d="M573,40.5 L553.5,34.2 M553.5,34.2 L554.1,23.7 M556.9,35.3 L557.5,24.8 M560.4,36.4 L560.9,25.9 M563.8,37.5 L564.3,27 M567.2,38.6 L567.5,33.1" stroke="#000" stroke-width="1" fill="none"/>
<rect x="572.5" y="38.5" width="2" height="2" fill="#fff" stroke="#000" stroke-width="1" class="crisp"/>
<path d="M573,58.3 L552.5,58.3 M559.5,58.3 L556.8,48.2 M563.1,58.3 L561.7,53" stroke="#000" stroke-width="1" fill="none"/>
<path d="M552.5,58.3 L552.5,47.8 L557.5,58.3 Z" stroke="#000" stroke-width="1" fill="none"/>
<rect x="572.5" y="56.5" width="2" height="2" fill="#fff" stroke="#000" stroke-width="1" class="crisp"/>
<path d="M573,76.4 L552.5,76.4 M559.5,76.4 L556.8,66.3" stroke="#000" stroke-width="1" fill="none"/>
<path d="M552.5,76.4 L552.5,65.9 L557.5,76.4 Z" stroke="#000" stroke-width="1" fill="none"/>
<rect x="572.5" y="74.5" width="2" height="2" fill="#fff" stroke="#000" stroke-width="1" class="crisp"/>
<path d="M573,94.4 L552.5,94.4 M559.5,94.4 L556.8,84.3" stroke="#000" stroke-width="1" fill="none"/>
<path d="M552.5,94.4 L552.5,83.9 L557.5,94.4 Z" stroke="#000" stroke-width="1" fill="none"/>
<rect x="572.5" y="92.5" width="2" height="2" fill="#fff" stroke="#000" stroke-width="1" class="crisp"/>
<path d="M573,111.2 L552.5,111.2 M559.5,111.2 L556.8,101.1 M563.1,111.2 L560.4,101.1" stroke="#000" stroke-width="1" fill="none"/>
<path d="M552.5,111.2 L552.5,100.7 L557.5,111.2 Z" stroke="#000" stroke-width="1" fill="none"/>
<rect x="572.5" y="109.5" width="2" height="2" fill="#fff" stroke="#000" stroke-width="1" class="crisp"/>
<path d="M573,131.3 L552.5,131.3 M559.5,131.3 L556.8,121.2 M563.1,131.3 L560.4,121.2" stroke="#000" stroke-width="1" fill="none"/>
<path d="M552.5,131.3 L552.5,120.8 L557.5,131.3 Z" stroke="#000" stroke-width="1" fill="none"/>
<rect x="572.5" y="129.5" width="2" height="2" fill="#fff" stroke="#000" stroke-width="1" class="crisp"/>
<path d="M573,157.1 L552.6,159.2 M559.6,158.5 L555.8,148.7" stroke="#000" stroke-width="1" fill="none"/>
<path d="M552.6,159.2 L551.5,148.8 L557.6,158.7 Z" stroke="#000" stroke-width="1" fill="none"/>
<rect x="572.5" y="155.5" width="2" height="2" fill="#fff" stroke="#000" stroke-width="1" class="crisp"/>
<path d="M573,176.3 L552.5,176.3 M559.5,176.3 L556.8,166.2 M563.1,176.3 L560.4,166.2" stroke="#000" stroke-width="1" fill="none"/>
<path d="M552.5,176.3 L552.5,165.8 L557.5,176.3 Z" stroke="#000" stroke-width="1" fill="none"/>
<rect x="572.5" y="174.5" width="2" height="2" fill="#fff" stroke="#000" stroke-width="1" class="crisp"/>
<path d="M573,196.8 L552.5,196.8 M559.5,196.8 L556.8,186.7 M563.1,196.8 L560.4,186.7" stroke="#000" stroke-width="1" fill="none"/>
<path d="M552.5,196.8 L552.5,186.3 L557.5,196.8 Z" stroke="#000" stroke-width="1" fill="none"/>
<rect x="572.5" y="195.5" width="2" height="2" fill="#fff" stroke="#000" stroke-width="1" class="crisp"/>
<path d="M573,220.9 L552.5,220.9 M559.5,220.9 L556.8,210.8 M563.1,220.9 L560.4,210.8" stroke="#000" stroke-width="1" fill="none"/>
<path d="M552.5,220.9 L552.5,210.4 L557.5,220.9 Z" stroke="#000" stroke-width="1" fill="none"/>
<rect x="572.5" y="219.5" width="2" height="2" fill="#fff" stroke="#000" stroke-width="1" class="crisp"/>
<path d="M573,239.5 L552.5,238.8 M559.5,239 L557.1,228.8 M563.1,239.2 L560.7,228.9 M566.7,239.3 L564.3,229" stroke="#000" stroke-width="1" fill="none"/>
<path d="M552.5,238.8 L552.9,228.3 L557.5,239 Z" stroke="#000" stroke-width="1" fill="none"/>
<rect x="572.5" y="238.5" width="2" height="2" fill="#fff" stroke="#000" stroke-width="1" class="crisp"/>
<path d="M573,254.9 L552.5,254.9 M559.5,254.9 L556.8,244.8 M563.1,254.9 L560.4,244.8" stroke="#000" stroke-width="1" fill="none"/>
<path d="M552.5,254.9 L552.5,244.4 L557.5,254.9 Z" stroke="#000" stroke-width="1" fill="none"/>
<rect x="572.5" y="253.5" width="2" height="2" fill="#fff" stroke="#000" stroke-width="1" class="crisp"/>
<path d="M573,275.9 L552.5,275.9 M559.5,275.9 L556.8,265.8" stroke="#000" stroke-width="1" fill="none"/>
<path d="M552.5,275.9 L552.5,265.4 L557.5,275.9 Z" stroke="#000" stroke-width="1" fill="none"/>
<rect x="572.5" y="274.5" width="2" height="2" fill="#fff" stroke="#000" stroke-width="1" class="crisp"/>
<path d="M573,294.3 L552.5,294.3 M559.5,294.3 L556.8,284.2" stroke="#000" stroke-width="1" fill="none"/>
<path d="M552.5,294.3 L552.5,283.8 L557.5,294.3 Z" stroke="#000" stroke-width="1" fill="none"/>
<rect x="572.5" y="292.5" width="2" height="2" fill="#fff" stroke="#000" stroke-width="1" class="crisp"/>
<path d="M573,316.4 L552.5,317.1 M559.5,316.9 L557.9,311.6" stroke="#000" stroke-width="1" fill="none"/>
<path d="M552.5,317.1 L552.1,306.6 L557.5,316.9 Z" stroke="#000" stroke-width="1" fill="none"/>
<rect x="572.5" y="314.5" width="2" height="2" fill="#fff" stroke="#000" stroke-width="1" class="crisp"/>
<path d="M573,332.4 L552.7,334.9 M559.6,334 L557.5,328.9" stroke="#000" stroke-width="1" fill="none"/>
<path d="M552.7,334.9 L551.4,324.5 L557.6,334.3 Z" stroke="#000" stroke-width="1" fill="none"/>
<rect x="572.5" y="330.5" width="2" height="2" fill="#fff" stroke="#000" stroke-width="1" class="crisp"/>
<path d="M573,353.4 L553.4,359.6 M553.4,359.6 L547.8,350.7 M556.9,358.5 L551.2,349.6 M560.3,357.4 L554.7,348.5 M563.7,356.3 L560.8,351.7" stroke="#000" stroke-width="1" fill="none"/>
<rect x="572.5" y="351.5" width="2" height="2" fill="#fff" stroke="#000" stroke-width="1" class="crisp"/>
<path d="M573,368.6 L554.1,376.6 M554.1,376.6 L547.7,368.3 M557.4,375.2 L551,366.9 M560.8,373.8 L554.3,365.5 M564.1,372.4 L560.7,368.1" stroke="#000" stroke-width="1" fill="none"/>
<rect x="572.5" y="367.5" width="2" height="2" fill="#fff" stroke="#000" stroke-width="1" class="crisp"/>
<path d="M573,384.2 L553,388.6 M553,388.6 L548.1,379.3 M556.5,387.8 L551.7,378.5 M560,387.1 L555.2,377.7" stroke="#000" stroke-width="1" fill="none"/>
<rect x="572.5" y="382.5" width="2" height="2" fill="#fff" stroke="#000" stroke-width="1" class="crisp"/>
<path d="M573,398.5 L553.4,404.7 M553.4,404.7 L547.8,395.8 M556.9,403.6 L551.2,394.7 M560.3,402.5 L557.4,397.9" stroke="#000" stroke-width="1" fill="none"/>
<rect x="572.5" y="396.5" width="2" height="2" fill="#fff" stroke="#000" stroke-width="1" class="crisp"/>
<path d="M573,412.5 L554.2,420.6 M554.2,420.6 L547.7,412.4 M557.5,419.2 L551,410.9 M560.8,417.8 L557.4,413.4" stroke="#000" stroke-width="1" fill="none"/>
<rect x="572.5" y="410.5" width="2" height="2" fill="#fff" stroke="#000" stroke-width="1" class="crisp"/>
<path d="M573,425.5 L554.6,434.5 M554.6,434.5 L547.7,426.6 M557.8,432.9 L554.2,428.8" stroke="#000" stroke-width="1" fill="none"/>
<rect x="572.5" y="424.5" width="2" height="2" fill="#fff" stroke="#000" stroke-width="1" class="crisp"/>
<path d="M573,443.4 L567.1,463 M567.1,463 L556.6,462.7 M568.1,459.6 L557.6,459.3 M569.2,456.1 L563.7,456" stroke="#000" stroke-width="1" fill="none"/>
<rect x="572.5" y="441.5" width="2" height="2" fill="#fff" stroke="#000" stroke-width="1" class="crisp"/>
<path d="M573,456.7 L562.8,474.5 M562.8,474.5 L552.6,471.7 M564.5,471.3 L554.4,468.6 M566.4,468.2 L556.2,465.5" stroke="#000" stroke-width="1" fill="none"/>
<rect x="572.5" y="455.5" width="2" height="2" fill="#fff" stroke="#000" stroke-width="1" class="crisp"/>
<path d="M573,470.4 L561.5,487.4 M561.5,487.4 L551.6,484 M563.5,484.4 L553.6,481 M565.6,481.4 L555.6,478" stroke="#000" stroke-width="1" fill="none"/>
<rect x="572.5" y="468.5" width="2" height="2" fill="#fff" stroke="#000" stroke-width="1" class="crisp"/>
<path d="M573,486.6 L561.4,503.5 M561.4,503.5 L551.5,500 M563.4,500.5 L553.5,497 M565.4,497.5 L555.6,494" stroke="#000" stroke-width="1" fill="none"/>
<rect x="572.5" y="485.5" width="2" height="2" fill="#fff" stroke="#000" stroke-width="1" class="crisp"/>
<path d="M573,498.6 L560.1,514.5 M560.1,514.5 L550.5,510.3 M562.4,511.7 L552.8,507.5 M564.6,508.9 L555,504.7" stroke="#000" stroke-width="1" fill="none"/>
<rect x="572.5" y="497.5" width="2" height="2" fill="#fff" stroke="#000" stroke-width="1" class="crisp"/>
<path d="M573,510.5 L556.5,522.7 M556.5,522.7 L548.3,516.2 M559.4,520.6 L551.2,514 M562.3,518.4 L554.1,511.9" stroke="#000" stroke-width="1" fill="none"/>
<rect x="572.5" y="508.5" width="2" height="2" fill="#fff" stroke="#000" stroke-width="1" class="crisp"/>
<path d="M573,527.6 L560.3,543.7 M560.3,543.7 L550.6,539.5 M562.5,540.8 L552.9,536.7 M564.7,538 L555.1,533.9" stroke="#000" stroke-width="1" fill="none"/>
<rect x="572.5" y="526.5" width="2" height="2" fill="#fff" stroke="#000" stroke-width="1" class="crisp"/>
<path d="M573,540.4 L562,557.7 M562,557.7 L552,554.6 M564,554.7 L553.9,551.6 M565.9,551.6 L555.9,548.5 M567.8,548.6 L557.8,545.5" stroke="#000" stroke-width="1" fill="none"/>
<rect x="572.5" y="538.5" width="2" height="2" fill="#fff" stroke="#000" stroke-width="1" class="crisp"/>
<path d="M573,554.5 L581.6,573.1 M581.6,573.1 L573.5,579.8" stroke="#000" stroke-width="1" fill="none"/>
<circle cx="573" cy="554.5" r="1.8" fill="#000"/>
<rect x="601" y="30" width="1" height="565" fill="#000" />
<rect x="694" y="30" width="1" height="565" fill="#000" />
<rect x="596" y="127" width="5" height="1" fill="#000" />
<rect x="596" y="196" width="5" height="1" fill="#000" />
<rect x="596" y="250" width="5" height="1" fill="#000" />
<rect x="596" y="294" width="5" height="1" fill="#000" />
<rect x="596" y="331" width="5" height="1" fill="#000" />
<rect x="596" y="363" width="5" height="1" fill="#000" />
<rect x="596" y="391" width="5" height="1" fill="#000" />
<rect x="596" y="416" width="5" height="1" fill="#000" />
<rect x="596" y="439" width="5" height="1" fill="#000" />
<rect x="596" y="460" width="5" height="1" fill="#000" />
<rect x="596" y="480" width="5" height="1" fill="#000" />
<rect x="596" y="497" width="5" height="1" fill="#000" />
<rect x="596" y="514" width="5" height="1" fill="#000" />
<rect x="596" y="529" width="5" height="1" fill="#000" />
<rect x="596" y="544" width="5" height="1" fill="#000" />
<rect x="596" y="558" width="5" height="1" fill="#000" />
<rect x="596" y="571" width="5" height="1" fill="#000" />
<rect x="596" y="583" width="5" height="1" fill="#000" />
<line x1="614.5" y1="31" x2="614.5" y2="595" stroke="#ffdead" stroke-width="1" stroke-dasharray="4 4"/>
<line x1="627.5" y1="31" x2="627.5" y2="595" stroke="#ffdead" stroke-width="1" stroke-dasharray="4 4"/>
<line x1="641.5" y1="31" x2="641.5" y2="595" stroke="#ffdead" stroke-width="1" stroke-dasharray="4 4"/>
<line x1="654.5" y1="31" x2="654.5" y2="595" stroke="#ffdead" stroke-width="1" stroke-dasharray="4 4"/>
<line x1="667.5" y1="31" x2="667.5" y2="595" stroke="#ffdead" stroke-width="1" stroke-dasharray="4 4"/>
<line x1="681.5" y1="31" x2="681.5" y2="595" stroke="#ffdead" stroke-width="1" stroke-dasharray="4 4"/>
<rect x="606" y="33" width="62" height="10" fill="#fff" stroke="none" stroke-width="1" />
<rect x="606" y="45" width="38" height="10" fill="#fff" stroke="none" stroke-width="1" />
<text x="607" y="40.8" font-size="8" fill="#000" text-anchor="start" font-weight="normal" font-family="'DejaVu Sans','Liberation Sans',sans-serif" xml:space="preserve" textLength="60" lengthAdjust="spacingAndGlyphs" stroke="#000" stroke-width="0.1">Wind Speed (kt)</text>
<text x="607" y="52.4" font-size="8" fill="#000" text-anchor="start" font-weight="normal" font-family="'DejaVu Sans','Liberation Sans',sans-serif" xml:space="preserve" textLength="36" lengthAdjust="spacingAndGlyphs" stroke="#000" stroke-width="0.1">vs Height</text>
<rect x="601" y="74" width="39.7" height="2" fill="#00ffff" stroke="none" stroke-width="1" class="crisp"/>
<rect x="601" y="86" width="43.8" height="2" fill="#00ffff" stroke="none" stroke-width="1" class="crisp"/>
<rect x="601" y="90" width="41.8" height="3" fill="#00ffff" stroke="none" stroke-width="1" class="crisp"/>
<rect x="601" y="92" width="39.7" height="2" fill="#00ffff" stroke="none" stroke-width="1" class="crisp"/>
<rect x="601" y="102" width="43.8" height="2" fill="#00ffff" stroke="none" stroke-width="1" class="crisp"/>
<rect x="601" y="109" width="48.8" height="2" fill="#00ffff" stroke="none" stroke-width="1" class="crisp"/>
<rect x="601" y="114" width="48" height="2" fill="#00ffff" stroke="none" stroke-width="1" class="crisp"/>
<rect x="601" y="119" width="49.7" height="2" fill="#00ffff" stroke="none" stroke-width="1" class="crisp"/>
<rect x="601" y="126" width="49.7" height="2" fill="#00ffff" stroke="none" stroke-width="1" class="crisp"/>
<rect x="601" y="129" width="49.7" height="2" fill="#00ffff" stroke="none" stroke-width="1" class="crisp"/>
<rect x="601" y="140" width="48" height="2" fill="#00ffff" stroke="none" stroke-width="1" class="crisp"/>
<rect x="601" y="152" width="40.8" height="2" fill="#00ffff" stroke="none" stroke-width="1" class="crisp"/>
<rect x="601" y="155" width="40.8" height="2" fill="#00ffff" stroke="none" stroke-width="1" class="crisp"/>
<rect x="601" y="160" width="48" height="2" fill="#00ffff" stroke="none" stroke-width="1" class="crisp"/>
<rect x="601" y="167" width="43.8" height="2" fill="#7f24ea" stroke="none" stroke-width="1" class="crisp"/>
<rect x="601" y="171" width="44.7" height="2" fill="#7f24ea" stroke="none" stroke-width="1" class="crisp"/>
<rect x="601" y="174" width="46.8" height="2" fill="#7f24ea" stroke="none" stroke-width="1" class="crisp"/>
<rect x="601" y="180" width="44.7" height="2" fill="#7f24ea" stroke="none" stroke-width="1" class="crisp"/>
<rect x="601" y="186" width="46.8" height="2" fill="#7f24ea" stroke="none" stroke-width="1" class="crisp"/>
<rect x="601" y="194" width="47.8" height="3" fill="#7f24ea" stroke="none" stroke-width="1" class="crisp"/>
<rect x="601" y="207" width="50.8" height="4" fill="#7f24ea" stroke="none" stroke-width="1" class="crisp"/>
<rect x="601" y="212" width="49.8" height="2" fill="#7f24ea" stroke="none" stroke-width="1" class="crisp"/>
<rect x="601" y="219" width="48.8" height="2" fill="#7f24ea" stroke="none" stroke-width="1" class="crisp"/>
<rect x="601" y="225" width="49.8" height="2" fill="#7f24ea" stroke="none" stroke-width="1" class="crisp"/>
<rect x="601" y="232" width="49.8" height="2" fill="#7f24ea" stroke="none" stroke-width="1" class="crisp"/>
<rect x="601" y="238" width="48.8" height="2" fill="#7f24ea" stroke="none" stroke-width="1" class="crisp"/>
<rect x="601" y="241" width="48.8" height="2" fill="#7f24ea" stroke="none" stroke-width="1" class="crisp"/>
<rect x="601" y="249" width="46.8" height="2" fill="#7f24ea" stroke="none" stroke-width="1" class="crisp"/>
<rect x="601" y="253" width="45.8" height="2" fill="#7f24ea" stroke="none" stroke-width="1" class="crisp"/>
<rect x="601" y="274" width="40.9" height="2" fill="#008b00" stroke="none" stroke-width="1" class="crisp"/>
<rect x="601" y="280" width="40.9" height="2" fill="#008b00" stroke="none" stroke-width="1" class="crisp"/>
<rect x="601" y="289" width="38.9" height="2" fill="#008b00" stroke="none" stroke-width="1" class="crisp"/>
<rect x="601" y="292" width="37.9" height="2" fill="#008b00" stroke="none" stroke-width="1" class="crisp"/>
<rect x="601" y="306" width="35.9" height="2" fill="#008b00" stroke="none" stroke-width="1" class="crisp"/>
<rect x="601" y="314" width="35.9" height="2" fill="#008b00" stroke="none" stroke-width="1" class="crisp"/>
<rect x="601" y="325" width="35.9" height="4" fill="#008b00" stroke="none" stroke-width="1" class="crisp"/>
<rect x="601" y="330" width="35.9" height="2" fill="#008b00" stroke="none" stroke-width="1" class="crisp"/>
<rect x="601" y="351" width="23.9" height="2" fill="#008b00" stroke="none" stroke-width="1" class="crisp"/>
<rect x="601" y="360" width="24.9" height="4" fill="#008b00" stroke="none" stroke-width="1" class="crisp"/>
<rect x="601" y="366" width="23.9" height="2" fill="#008b00" stroke="none" stroke-width="1" class="crisp"/>
<rect x="601" y="380" width="21" height="2" fill="#00ff00" stroke="none" stroke-width="1" class="crisp"/>
<rect x="601" y="382" width="19" height="2" fill="#00ff00" stroke="none" stroke-width="1" class="crisp"/>
<rect x="601" y="389" width="17.9" height="4" fill="#00ff00" stroke="none" stroke-width="1" class="crisp"/>
<rect x="601" y="396" width="17.9" height="2" fill="#00ff00" stroke="none" stroke-width="1" class="crisp"/>
<rect x="601" y="401" width="18.9" height="4" fill="#00ff00" stroke="none" stroke-width="1" class="crisp"/>
<rect x="601" y="410" width="16.9" height="2" fill="#00ff00" stroke="none" stroke-width="1" class="crisp"/>
<rect x="601" y="415" width="15.9" height="2" fill="#00ff00" stroke="none" stroke-width="1" class="crisp"/>
<rect x="601" y="423" width="13.9" height="2" fill="#00ff00" stroke="none" stroke-width="1" class="crisp"/>
<rect x="601" y="429" width="11.9" height="2" fill="#00ff00" stroke="none" stroke-width="1" class="crisp"/>
<rect x="601" y="432" width="10.9" height="2" fill="#00ff00" stroke="none" stroke-width="1" class="crisp"/>
<rect x="601" y="441" width="12.5" height="2" fill="#00ff00" stroke="none" stroke-width="1" class="crisp"/>
<rect x="601" y="447" width="15.7" height="2" fill="#00ff00" stroke="none" stroke-width="1" class="crisp"/>
<rect x="601" y="450" width="17.9" height="2" fill="#00ff00" stroke="none" stroke-width="1" class="crisp"/>
<rect x="601" y="454" width="16.8" height="2" fill="#00ff00" stroke="none" stroke-width="1" class="crisp"/>
<rect x="601" y="457" width="17.9" height="2" fill="#00ff00" stroke="none" stroke-width="1" class="crisp"/>
<rect x="601" y="461" width="15.7" height="2" fill="#00ff00" stroke="none" stroke-width="1" class="crisp"/>
<rect x="601" y="465" width="17.9" height="2" fill="#00ff00" stroke="none" stroke-width="1" class="crisp"/>
<rect x="601" y="468" width="19" height="2" fill="#00ff00" stroke="none" stroke-width="1" class="crisp"/>
<rect x="601" y="474" width="14.7" height="2" fill="#ff0000" stroke="none" stroke-width="1" class="crisp"/>
<rect x="601" y="480" width="15.7" height="2" fill="#ff0000" stroke="none" stroke-width="1" class="crisp"/>
<rect x="601" y="484" width="17.9" height="2" fill="#ff0000" stroke="none" stroke-width="1" class="crisp"/>
<rect x="601" y="491" width="17.9" height="2" fill="#ff0000" stroke="none" stroke-width="1" class="crisp"/>
<rect x="601" y="494" width="19" height="3" fill="#ff0000" stroke="none" stroke-width="1" class="crisp"/>
<rect x="601" y="497" width="17.9" height="2" fill="#ff0000" stroke="none" stroke-width="1" class="crisp"/>
<rect x="601" y="500" width="17.9" height="2" fill="#ff0000" stroke="none" stroke-width="1" class="crisp"/>
<rect x="601" y="503" width="16.8" height="2" fill="#ff0000" stroke="none" stroke-width="1" class="crisp"/>
<rect x="601" y="505" width="15.7" height="2" fill="#ff0000" stroke="none" stroke-width="1" class="crisp"/>
<rect x="601" y="508" width="15.7" height="2" fill="#ff0000" stroke="none" stroke-width="1" class="crisp"/>
<rect x="601" y="516" width="17.9" height="4" fill="#ff0000" stroke="none" stroke-width="1" class="crisp"/>
<rect x="601" y="525" width="20" height="2" fill="#ff0000" stroke="none" stroke-width="1" class="crisp"/>
<rect x="601" y="534" width="26" height="6" fill="#ff0000" stroke="none" stroke-width="1" class="crisp"/>
<rect x="601" y="542" width="22.8" height="3" fill="#ff0000" stroke="none" stroke-width="1" class="crisp"/>
<rect x="601" y="553" width="5.7" height="2" fill="#ff0000" stroke="none" stroke-width="1" class="crisp"/>
<text x="616" y="605" font-size="7.8" fill="#000" text-anchor="middle" font-weight="normal" font-family="'DejaVu Sans','Liberation Sans',sans-serif" xml:space="preserve"  stroke="#000" stroke-width="0.1">20</text>
<text x="629.6" y="605" font-size="7.8" fill="#000" text-anchor="middle" font-weight="normal" font-family="'DejaVu Sans','Liberation Sans',sans-serif" xml:space="preserve"  stroke="#000" stroke-width="0.1">40</text>
<text x="643.4" y="605" font-size="7.8" fill="#000" text-anchor="middle" font-weight="normal" font-family="'DejaVu Sans','Liberation Sans',sans-serif" xml:space="preserve"  stroke="#000" stroke-width="0.1">60</text>
<text x="656.4" y="605" font-size="7.8" fill="#000" text-anchor="middle" font-weight="normal" font-family="'DejaVu Sans','Liberation Sans',sans-serif" xml:space="preserve"  stroke="#000" stroke-width="0.1">80</text>
<text x="680" y="605" font-size="7.8" fill="#000" text-anchor="middle" font-weight="normal" font-family="'DejaVu Sans','Liberation Sans',sans-serif" xml:space="preserve"  stroke="#000" stroke-width="0.1">100120</text>
<rect x="761" y="30" width="1" height="565" fill="#000" />
<line x1="727.5" y1="31" x2="727.5" y2="595" stroke="#000" stroke-width="1" stroke-dasharray="3 3" class="crisp"/>
<rect x="699" y="44" width="61" height="9" fill="#fff" stroke="none" stroke-width="1" />
<text x="699" y="40.7" font-size="8" fill="#000" text-anchor="start" font-weight="normal" font-family="'DejaVu Sans','Liberation Sans',sans-serif" xml:space="preserve" textLength="29" lengthAdjust="spacingAndGlyphs" stroke="#000" stroke-width="0.1">Inferred</text>
<text x="699" y="50.9" font-size="8" fill="#000" text-anchor="start" font-weight="normal" font-family="'DejaVu Sans','Liberation Sans',sans-serif" xml:space="preserve" textLength="60" lengthAdjust="spacingAndGlyphs" stroke="#000" stroke-width="0.1">Temp Advection</text>
<text x="699" y="60.9" font-size="8" fill="#000" text-anchor="start" font-weight="normal" font-family="'DejaVu Sans','Liberation Sans',sans-serif" xml:space="preserve" textLength="26" lengthAdjust="spacingAndGlyphs" stroke="#000" stroke-width="0.1">(C / hr)</text>
<rect x="723.5" y="182.5" width="4" height="102" fill="#fff" stroke="#10aef0" stroke-width="1" class="crisp"/>
<text x="722" y="238" font-size="11" fill="#10aef0" text-anchor="end" font-weight="normal" font-family="'Liberation Sans',sans-serif" xml:space="preserve"  stroke="#10aef0" stroke-width="0.2">-1.3</text>
<rect x="727.5" y="284.5" width="9" height="71" fill="#fff" stroke="#ee2c2c" stroke-width="1" class="crisp"/>
<text x="730" y="324.5" font-size="11" fill="#ee2c2c" text-anchor="start" font-weight="normal" font-family="'Liberation Sans',sans-serif" xml:space="preserve"  stroke="#ee2c2c" stroke-width="0.2">3.7</text>
<rect x="727" y="355" width="1" height="56" fill="#ee2c2c" />
<text x="730" y="388.5" font-size="11" fill="#ee2c2c" text-anchor="start" font-weight="normal" font-family="'Liberation Sans',sans-serif" xml:space="preserve"  stroke="#ee2c2c" stroke-width="0.2">0.4</text>
<rect x="727.5" y="411.5" width="5" height="44" fill="#fff" stroke="#ee2c2c" stroke-width="1" class="crisp"/>
<text x="730" y="438.5" font-size="11" fill="#ee2c2c" text-anchor="start" font-weight="normal" font-family="'Liberation Sans',sans-serif" xml:space="preserve"  stroke="#ee2c2c" stroke-width="0.2">2.4</text>
<rect x="724.5" y="455.5" width="3" height="38" fill="#fff" stroke="#10aef0" stroke-width="1" class="crisp"/>
<text x="723" y="480.5" font-size="11" fill="#10aef0" text-anchor="end" font-weight="normal" font-family="'Liberation Sans',sans-serif" xml:space="preserve"  stroke="#10aef0" stroke-width="0.2">-1.0</text>
<rect x="726" y="493" width="2" height="34" fill="#10aef0" />
<text x="725" y="515.5" font-size="11" fill="#10aef0" text-anchor="end" font-weight="normal" font-family="'Liberation Sans',sans-serif" xml:space="preserve"  stroke="#10aef0" stroke-width="0.2">-0.0</text>
<rect x="727.5" y="527.5" width="11" height="16" fill="#fff" stroke="#ee2c2c" stroke-width="1" class="crisp"/>
<text x="730" y="539" font-size="11" fill="#ee2c2c" text-anchor="start" font-weight="normal" font-family="'Liberation Sans',sans-serif" xml:space="preserve"  stroke="#ee2c2c" stroke-width="0.2">4.7</text>
<defs><clipPath id="hclip"><rect x="762" y="31" width="414" height="444"/></clipPath></defs>
<g clip-path="url(#hclip)">
<circle cx="903.5" cy="301.5" r="30" fill="none" stroke="#ffdead" stroke-width="1" stroke-dasharray="2.3 3.4"/>
<circle cx="903.5" cy="301.5" r="60" fill="none" stroke="#ffdead" stroke-width="1" stroke-dasharray="2.3 3.4"/>
<circle cx="903.5" cy="301.5" r="90" fill="none" stroke="#ffdead" stroke-width="1" stroke-dasharray="2.3 3.4"/>
<circle cx="903.5" cy="301.5" r="120" fill="none" stroke="#ffdead" stroke-width="1" stroke-dasharray="2.3 3.4"/>
<circle cx="903.5" cy="301.5" r="150" fill="none" stroke="#ffdead" stroke-width="1" stroke-dasharray="2.3 3.4"/>
<circle cx="903.5" cy="301.5" r="180" fill="none" stroke="#ffdead" stroke-width="1" stroke-dasharray="2.3 3.4"/>
<circle cx="903.5" cy="301.5" r="210" fill="none" stroke="#ffdead" stroke-width="1" stroke-dasharray="2.3 3.4"/>
<circle cx="903.5" cy="301.5" r="240" fill="none" stroke="#ffdead" stroke-width="1" stroke-dasharray="2.3 3.4"/>
<circle cx="903.5" cy="301.5" r="270" fill="none" stroke="#ffdead" stroke-width="1" stroke-dasharray="2.3 3.4"/>
<circle cx="903.5" cy="301.5" r="300" fill="none" stroke="#ffdead" stroke-width="1" stroke-dasharray="2.3 3.4"/>
<circle cx="903.5" cy="301.5" r="330" fill="none" stroke="#ffdead" stroke-width="1" stroke-dasharray="2.3 3.4"/>
<circle cx="903.5" cy="301.5" r="360" fill="none" stroke="#ffdead" stroke-width="1" stroke-dasharray="2.3 3.4"/>
<circle cx="903.5" cy="301.5" r="390" fill="none" stroke="#ffdead" stroke-width="1" stroke-dasharray="2.3 3.4"/>
<circle cx="903.5" cy="301.5" r="420" fill="none" stroke="#ffdead" stroke-width="1" stroke-dasharray="2.3 3.4"/>
<circle cx="903.5" cy="301.5" r="450" fill="none" stroke="#ffdead" stroke-width="1" stroke-dasharray="2.3 3.4"/>
</g>
<rect x="762" y="301" width="414" height="1" fill="#cd8500" />
<rect x="903" y="31" width="1" height="444" fill="#cd8500" />
<text x="933.5" y="314" font-size="8" fill="#cd8500" text-anchor="middle" font-weight="normal" font-family="'DejaVu Sans','Liberation Sans',sans-serif" xml:space="preserve"  stroke="#cd8500" stroke-width="0.1">10</text>
<text x="873.5" y="314" font-size="8" fill="#cd8500" text-anchor="middle" font-weight="normal" font-family="'DejaVu Sans','Liberation Sans',sans-serif" xml:space="preserve"  stroke="#cd8500" stroke-width="0.1">10</text>
<text x="902" y="274.5" font-size="8" fill="#cd8500" text-anchor="end" font-weight="normal" font-family="'DejaVu Sans','Liberation Sans',sans-serif" xml:space="preserve"  stroke="#cd8500" stroke-width="0.1">10-</text>
<text x="902" y="334.5" font-size="8" fill="#cd8500" text-anchor="end" font-weight="normal" font-family="'DejaVu Sans','Liberation Sans',sans-serif" xml:space="preserve"  stroke="#cd8500" stroke-width="0.1">10-</text>
<text x="963.5" y="314" font-size="8" fill="#cd8500" text-anchor="middle" font-weight="normal" font-family="'DejaVu Sans','Liberation Sans',sans-serif" xml:space="preserve"  stroke="#cd8500" stroke-width="0.1">20</text>
<text x="843.5" y="314" font-size="8" fill="#cd8500" text-anchor="middle" font-weight="normal" font-family="'DejaVu Sans','Liberation Sans',sans-serif" xml:space="preserve"  stroke="#cd8500" stroke-width="0.1">20</text>
<text x="902" y="244.5" font-size="8" fill="#cd8500" text-anchor="end" font-weight="normal" font-family="'DejaVu Sans','Liberation Sans',sans-serif" xml:space="preserve"  stroke="#cd8500" stroke-width="0.1">20-</text>
<text x="902" y="364.5" font-size="8" fill="#cd8500" text-anchor="end" font-weight="normal" font-family="'DejaVu Sans','Liberation Sans',sans-serif" xml:space="preserve"  stroke="#cd8500" stroke-width="0.1">20-</text>
<text x="993.5" y="314" font-size="8" fill="#cd8500" text-anchor="middle" font-weight="normal" font-family="'DejaVu Sans','Liberation Sans',sans-serif" xml:space="preserve"  stroke="#cd8500" stroke-width="0.1">30</text>
<text x="813.5" y="314" font-size="8" fill="#cd8500" text-anchor="middle" font-weight="normal" font-family="'DejaVu Sans','Liberation Sans',sans-serif" xml:space="preserve"  stroke="#cd8500" stroke-width="0.1">30</text>
<text x="902" y="214.5" font-size="8" fill="#cd8500" text-anchor="end" font-weight="normal" font-family="'DejaVu Sans','Liberation Sans',sans-serif" xml:space="preserve"  stroke="#cd8500" stroke-width="0.1">30-</text>
<text x="902" y="394.5" font-size="8" fill="#cd8500" text-anchor="end" font-weight="normal" font-family="'DejaVu Sans','Liberation Sans',sans-serif" xml:space="preserve"  stroke="#cd8500" stroke-width="0.1">30-</text>
<text x="1023.5" y="314" font-size="8" fill="#cd8500" text-anchor="middle" font-weight="normal" font-family="'DejaVu Sans','Liberation Sans',sans-serif" xml:space="preserve"  stroke="#cd8500" stroke-width="0.1">40</text>
<text x="783.5" y="314" font-size="8" fill="#cd8500" text-anchor="middle" font-weight="normal" font-family="'DejaVu Sans','Liberation Sans',sans-serif" xml:space="preserve"  stroke="#cd8500" stroke-width="0.1">40</text>
<text x="902" y="184.5" font-size="8" fill="#cd8500" text-anchor="end" font-weight="normal" font-family="'DejaVu Sans','Liberation Sans',sans-serif" xml:space="preserve"  stroke="#cd8500" stroke-width="0.1">40-</text>
<text x="902" y="424.5" font-size="8" fill="#cd8500" text-anchor="end" font-weight="normal" font-family="'DejaVu Sans','Liberation Sans',sans-serif" xml:space="preserve"  stroke="#cd8500" stroke-width="0.1">40-</text>
<text x="1053.5" y="314" font-size="8" fill="#cd8500" text-anchor="middle" font-weight="normal" font-family="'DejaVu Sans','Liberation Sans',sans-serif" xml:space="preserve"  stroke="#cd8500" stroke-width="0.1">50</text>
<text x="902" y="154.5" font-size="8" fill="#cd8500" text-anchor="end" font-weight="normal" font-family="'DejaVu Sans','Liberation Sans',sans-serif" xml:space="preserve"  stroke="#cd8500" stroke-width="0.1">50-</text>
<text x="902" y="454.5" font-size="8" fill="#cd8500" text-anchor="end" font-weight="normal" font-family="'DejaVu Sans','Liberation Sans',sans-serif" xml:space="preserve"  stroke="#cd8500" stroke-width="0.1">50-</text>
<text x="1083.5" y="314" font-size="8" fill="#cd8500" text-anchor="middle" font-weight="normal" font-family="'DejaVu Sans','Liberation Sans',sans-serif" xml:space="preserve"  stroke="#cd8500" stroke-width="0.1">60</text>
<text x="902" y="124.5" font-size="8" fill="#cd8500" text-anchor="end" font-weight="normal" font-family="'DejaVu Sans','Liberation Sans',sans-serif" xml:space="preserve"  stroke="#cd8500" stroke-width="0.1">60-</text>
<text x="1113.5" y="314" font-size="8" fill="#cd8500" text-anchor="middle" font-weight="normal" font-family="'DejaVu Sans','Liberation Sans',sans-serif" xml:space="preserve"  stroke="#cd8500" stroke-width="0.1">70</text>
<text x="902" y="94.5" font-size="8" fill="#cd8500" text-anchor="end" font-weight="normal" font-family="'DejaVu Sans','Liberation Sans',sans-serif" xml:space="preserve"  stroke="#cd8500" stroke-width="0.1">70-</text>
<text x="1143.5" y="314" font-size="8" fill="#cd8500" text-anchor="middle" font-weight="normal" font-family="'DejaVu Sans','Liberation Sans',sans-serif" xml:space="preserve"  stroke="#cd8500" stroke-width="0.1">80</text>
<text x="902" y="64.5" font-size="8" fill="#cd8500" text-anchor="end" font-weight="normal" font-family="'DejaVu Sans','Liberation Sans',sans-serif" xml:space="preserve"  stroke="#cd8500" stroke-width="0.1">80-</text>
<text x="1173.5" y="314" font-size="8" fill="#cd8500" text-anchor="middle" font-weight="normal" font-family="'DejaVu Sans','Liberation Sans',sans-serif" xml:space="preserve"  stroke="#cd8500" stroke-width="0.1">90</text>
<text x="902" y="34.5" font-size="8" fill="#cd8500" text-anchor="end" font-weight="normal" font-family="'DejaVu Sans','Liberation Sans',sans-serif" xml:space="preserve"  stroke="#cd8500" stroke-width="0.1">90-</text>
<text x="1178.5" y="264" font-size="8" fill="#cd8500" text-anchor="start" font-weight="normal" font-family="'DejaVu Sans','Liberation Sans',sans-serif" xml:space="preserve"  stroke="#cd8500" stroke-width="0.1">1</text>
<rect x="1176" y="30" width="1" height="565" fill="#000" />
<rect x="761" y="475" width="416" height="1" fill="#000" />
<rect x="601" y="595" width="576" height="1" fill="#000" />
<g clip-path="url(#hclip)">
<polyline points="890.3,273.5 951.5,201.6 964.8,194.6 979,210.8 970.6,205.8 964,229.1 961.4,247 963.5,249.1 958.5,253.4 954.3,250.6 958.5,252 961.4,246.3 957.7,240.2 952.3,234.9 949,244 939,241.5 952.3,230.7" fill="none" stroke="#ff0000" stroke-width="3" stroke-linejoin="round"/>
<polyline points="952.3,230.7 946.5,231.9 939,241.2 945.7,233.2 937.4,228.2 934,234 925.7,242.9 925.4,248.2 929.9,256.5 959.8,268.2 972.3,281.5 974.8,269.8 979.5,269.5 984,274.8 993.1,277.3 998.1,273.1 998.4,269" fill="none" stroke="#00ff00" stroke-width="3" stroke-linejoin="round"/>
<polyline points="998.4,269 1003.9,255.7 1010.6,263.2 1031.3,267.3 1062,271 1065.3,272 1077.9,301 1093,301" fill="none" stroke="#008b00" stroke-width="3" stroke-linejoin="round"/>
<polyline points="1093,301 1108,301 1100.6,284.6 1109.4,299.7 1111,286 1113.1,283.4 1115,286 1112.5,300.5 1126,300.5 1123.5,283 1127,281.5 1130,283 1126.5,300.5 1133.3,301" fill="none" stroke="#9a6fe0" stroke-width="3" stroke-linejoin="round"/>
</g>
<rect x="993.5" y="264.5" width="8" height="8" fill="#fff" stroke="#cd6839" stroke-width="3" />
<circle cx="890.3" cy="273.5" r="2.7" fill="#000" shape-rendering="geometricPrecision"/>
<text x="890.3" y="268.5" font-size="7.8" fill="#000" text-anchor="middle" font-weight="normal" font-family="'DejaVu Sans','Liberation Sans',sans-serif" xml:space="preserve"  stroke="#000" stroke-width="0.1">0</text>
<circle cx="964" cy="229.1" r="2.7" fill="#000" shape-rendering="geometricPrecision"/>
<text x="964" y="224.1" font-size="7.8" fill="#000" text-anchor="middle" font-weight="normal" font-family="'DejaVu Sans','Liberation Sans',sans-serif" xml:space="preserve"  stroke="#000" stroke-width="0.1">1</text>
<circle cx="957.7" cy="240.2" r="2.7" fill="#000" shape-rendering="geometricPrecision"/>
<text x="957.7" y="235.2" font-size="7.8" fill="#000" text-anchor="middle" font-weight="normal" font-family="'DejaVu Sans','Liberation Sans',sans-serif" xml:space="preserve"  stroke="#000" stroke-width="0.1">2</text>
<circle cx="952.3" cy="230.7" r="2.7" fill="#000" shape-rendering="geometricPrecision"/>
<text x="952.3" y="225.7" font-size="7.8" fill="#000" text-anchor="middle" font-weight="normal" font-family="'DejaVu Sans','Liberation Sans',sans-serif" xml:space="preserve"  stroke="#000" stroke-width="0.1">3</text>
<circle cx="925.4" cy="248.2" r="2.7" fill="#000" shape-rendering="geometricPrecision"/>
<text x="925.4" y="243.2" font-size="7.8" fill="#000" text-anchor="middle" font-weight="normal" font-family="'DejaVu Sans','Liberation Sans',sans-serif" xml:space="preserve"  stroke="#000" stroke-width="0.1">4</text>
<circle cx="979.5" cy="269.5" r="2.7" fill="#000" shape-rendering="geometricPrecision"/>
<text x="979.5" y="264.5" font-size="7.8" fill="#000" text-anchor="middle" font-weight="normal" font-family="'DejaVu Sans','Liberation Sans',sans-serif" xml:space="preserve"  stroke="#000" stroke-width="0.1">5</text>
<circle cx="998.4" cy="269" r="2.7" fill="#000" shape-rendering="geometricPrecision"/>
<text x="998.4" y="264" font-size="7.8" fill="#000" text-anchor="middle" font-weight="normal" font-family="'DejaVu Sans','Liberation Sans',sans-serif" xml:space="preserve"  stroke="#000" stroke-width="0.1">6</text>
<circle cx="1031.3" cy="267.3" r="2.7" fill="#000" shape-rendering="geometricPrecision"/>
<text x="1031.3" y="262.3" font-size="7.8" fill="#000" text-anchor="middle" font-weight="normal" font-family="'DejaVu Sans','Liberation Sans',sans-serif" xml:space="preserve"  stroke="#000" stroke-width="0.1">7</text>
<circle cx="1068.6" cy="286.4" r="2.7" fill="#000" shape-rendering="geometricPrecision"/>
<text x="1068.6" y="281.4" font-size="7.8" fill="#000" text-anchor="middle" font-weight="normal" font-family="'DejaVu Sans','Liberation Sans',sans-serif" xml:space="preserve"  stroke="#000" stroke-width="0.1">8</text>
<circle cx="1093" cy="301" r="2.7" fill="#000" shape-rendering="geometricPrecision"/>
<text x="1093" y="296" font-size="7.8" fill="#000" text-anchor="middle" font-weight="normal" font-family="'DejaVu Sans','Liberation Sans',sans-serif" xml:space="preserve"  stroke="#000" stroke-width="0.1">9</text>
<circle cx="1126.5" cy="301" r="2.7" fill="#000" shape-rendering="geometricPrecision"/>
<text x="1126.5" y="296" font-size="7.8" fill="#000" text-anchor="middle" font-weight="normal" font-family="'DejaVu Sans','Liberation Sans',sans-serif" xml:space="preserve"  stroke="#000" stroke-width="0.1">10</text>
<circle cx="952.7" cy="202.5" r="5" fill="#fff" stroke="#000" stroke-width="1.2" shape-rendering="geometricPrecision"/>
<line x1="947.7" y1="202.5" x2="957.7" y2="202.5" stroke="#000" stroke-width="1" />
<line x1="952.7" y1="197.5" x2="952.7" y2="207.5" stroke="#000" stroke-width="1" />
<circle cx="956.5" cy="289.8" r="5" fill="#fff" stroke="#000" stroke-width="1.2" shape-rendering="geometricPrecision"/>
<line x1="951.5" y1="289.8" x2="961.5" y2="289.8" stroke="#000" stroke-width="1" />
<line x1="956.5" y1="284.8" x2="956.5" y2="294.8" stroke="#000" stroke-width="1" />
<text x="951" y="217.5" font-size="8" fill="#000" text-anchor="start" font-weight="normal" font-family="'DejaVu Sans','Liberation Sans',sans-serif" xml:space="preserve" textLength="40" lengthAdjust="spacingAndGlyphs" stroke="#000" stroke-width="0.1">206/37 LM</text>
<text x="955" y="304.5" font-size="8" fill="#000" text-anchor="start" font-weight="normal" font-family="'DejaVu Sans','Liberation Sans',sans-serif" xml:space="preserve" textLength="41" lengthAdjust="spacingAndGlyphs" stroke="#000" stroke-width="0.1">257/18 RM</text>
<text x="996" y="283" font-size="8" fill="#cd6839" text-anchor="start" font-weight="normal" font-family="'DejaVu Sans','Liberation Sans',sans-serif" xml:space="preserve" textLength="26" lengthAdjust="spacingAndGlyphs" stroke="#cd6839" stroke-width="0.1">251/33</text>
<circle cx="1006.4" cy="274.5" r="3" fill="#fff" stroke="#1e90ff" stroke-width="1.2" shape-rendering="geometricPrecision"/>
<text x="1005" y="289.5" font-size="8" fill="#1e90ff" text-anchor="start" font-weight="normal" font-family="'DejaVu Sans','Liberation Sans',sans-serif" xml:space="preserve" textLength="42" lengthAdjust="spacingAndGlyphs" stroke="#1e90ff" stroke-width="0.1">DP=255/35</text>
<circle cx="931.3" cy="323.4" r="3" fill="#fff" stroke="#1e90ff" stroke-width="1.2" shape-rendering="geometricPrecision"/>
<text x="929.8" y="338.5" font-size="8" fill="#1e90ff" text-anchor="start" font-weight="normal" font-family="'DejaVu Sans','Liberation Sans',sans-serif" xml:space="preserve" textLength="42" lengthAdjust="spacingAndGlyphs" stroke="#1e90ff" stroke-width="0.1">UP=309/12</text>
<rect x="881" y="475" width="1" height="120" fill="#000" />
<rect x="1043" y="475" width="1" height="120" fill="#000" />
<defs><clipPath id="teclip"><rect x="762" y="476" width="119" height="122.5"/></clipPath><clipPath id="srclip"><rect x="882" y="476" width="161" height="119"/></clipPath></defs>
<g clip-path="url(#teclip)">
<rect x="762" y="511" width="4" height="1" fill="#000" />
<text x="767.5" y="514" font-size="8.5" fill="#000" text-anchor="start" font-weight="normal" font-family="'DejaVu Sans','Liberation Sans',sans-serif" xml:space="preserve"  stroke="#000" stroke-width="0.1">600</text>
<rect x="762" y="543" width="4" height="1" fill="#000" />
<text x="767.5" y="546" font-size="8.5" fill="#000" text-anchor="start" font-weight="normal" font-family="'DejaVu Sans','Liberation Sans',sans-serif" xml:space="preserve"  stroke="#000" stroke-width="0.1">700</text>
<rect x="762" y="572" width="4" height="1" fill="#000" />
<text x="767.5" y="575" font-size="8.5" fill="#000" text-anchor="start" font-weight="normal" font-family="'DejaVu Sans','Liberation Sans',sans-serif" xml:space="preserve"  stroke="#000" stroke-width="0.1">800</text>
<rect x="762" y="597" width="4" height="1" fill="#000" />
<text x="767.5" y="600" font-size="8.5" fill="#000" text-anchor="start" font-weight="normal" font-family="'DejaVu Sans','Liberation Sans',sans-serif" xml:space="preserve"  stroke="#000" stroke-width="0.1">900</text>
</g>
<rect x="772" y="590" width="1" height="5" fill="#000" />
<text x="773" y="589" font-size="8.5" fill="#000" text-anchor="middle" font-weight="normal" font-family="'DejaVu Sans','Liberation Sans',sans-serif" xml:space="preserve"  stroke="#000" stroke-width="0.1">311</text>
<rect x="796" y="590" width="1" height="5" fill="#000" />
<text x="797" y="589" font-size="8.5" fill="#000" text-anchor="middle" font-weight="normal" font-family="'DejaVu Sans','Liberation Sans',sans-serif" xml:space="preserve"  stroke="#000" stroke-width="0.1">321</text>
<rect x="821" y="590" width="1" height="5" fill="#000" />
<text x="822" y="589" font-size="8.5" fill="#000" text-anchor="middle" font-weight="normal" font-family="'DejaVu Sans','Liberation Sans',sans-serif" xml:space="preserve"  stroke="#000" stroke-width="0.1">331</text>
<rect x="846" y="590" width="1" height="5" fill="#000" />
<text x="847" y="589" font-size="8.5" fill="#000" text-anchor="middle" font-weight="normal" font-family="'DejaVu Sans','Liberation Sans',sans-serif" xml:space="preserve"  stroke="#000" stroke-width="0.1">341</text>
<rect x="870" y="590" width="1" height="5" fill="#000" />
<text x="871" y="589" font-size="8.5" fill="#000" text-anchor="middle" font-weight="normal" font-family="'DejaVu Sans','Liberation Sans',sans-serif" xml:space="preserve"  stroke="#000" stroke-width="0.1">351</text>
<text x="817.5" y="486.5" font-size="8" fill="#000" text-anchor="start" font-weight="normal" font-family="'DejaVu Sans','Liberation Sans',sans-serif" xml:space="preserve" textLength="39" lengthAdjust="spacingAndGlyphs" stroke="#000" stroke-width="0.1">Theta-E vs</text>
<text x="817.5" y="498" font-size="8" fill="#000" text-anchor="start" font-weight="normal" font-family="'DejaVu Sans','Liberation Sans',sans-serif" xml:space="preserve" textLength="31" lengthAdjust="spacingAndGlyphs" stroke="#000" stroke-width="0.1">Pressure</text>
<text x="831.5" y="535" font-size="10" fill="#7a0d0d" text-anchor="start" font-weight="normal" font-family="'Liberation Sans',sans-serif" xml:space="preserve"  stroke="#7a0d0d" stroke-width="0.15">TEI = 7</text>
<g clip-path="url(#teclip)">
<polyline points="804,475.3 805.8,482.8 809.3,493.5 811.7,506.9 812,543.4 809.9,555.9 808.5,570.1 812,576.4 815.6,579 817.4,586.1 825.4,591.5 832.9,595.1" fill="none" stroke="#ff0000" stroke-width="2.2" stroke-linejoin="round"/>
</g>
<rect x="882" y="491" width="5" height="1" fill="#000" />
<text x="888" y="494" font-size="8.5" fill="#000" text-anchor="start" font-weight="normal" font-family="'DejaVu Sans','Liberation Sans',sans-serif" xml:space="preserve"  stroke="#000" stroke-width="0.1">14</text>
<rect x="882" y="506" width="5" height="1" fill="#000" />
<text x="888" y="509" font-size="8.5" fill="#000" text-anchor="start" font-weight="normal" font-family="'DejaVu Sans','Liberation Sans',sans-serif" xml:space="preserve"  stroke="#000" stroke-width="0.1">12</text>
<rect x="882" y="521" width="5" height="1" fill="#000" />
<text x="888" y="524" font-size="8.5" fill="#000" text-anchor="start" font-weight="normal" font-family="'DejaVu Sans','Liberation Sans',sans-serif" xml:space="preserve"  stroke="#000" stroke-width="0.1">10</text>
<rect x="882" y="536" width="5" height="1" fill="#000" />
<text x="888" y="539" font-size="8.5" fill="#000" text-anchor="start" font-weight="normal" font-family="'DejaVu Sans','Liberation Sans',sans-serif" xml:space="preserve"  stroke="#000" stroke-width="0.1">8</text>
<rect x="882" y="551" width="5" height="1" fill="#000" />
<text x="888" y="554" font-size="8.5" fill="#000" text-anchor="start" font-weight="normal" font-family="'DejaVu Sans','Liberation Sans',sans-serif" xml:space="preserve"  stroke="#000" stroke-width="0.1">6</text>
<rect x="882" y="566" width="5" height="1" fill="#000" />
<text x="888" y="569" font-size="8.5" fill="#000" text-anchor="start" font-weight="normal" font-family="'DejaVu Sans','Liberation Sans',sans-serif" xml:space="preserve"  stroke="#000" stroke-width="0.1">4</text>
<rect x="882" y="581" width="5" height="1" fill="#000" />
<text x="888" y="584" font-size="8.5" fill="#000" text-anchor="start" font-weight="normal" font-family="'DejaVu Sans','Liberation Sans',sans-serif" xml:space="preserve"  stroke="#000" stroke-width="0.1">2</text>
<rect x="901" y="590" width="1" height="5" fill="#000" />
<rect x="921" y="590" width="1" height="5" fill="#000" />
<rect x="941" y="590" width="1" height="5" fill="#000" />
<rect x="961" y="590" width="1" height="5" fill="#000" />
<rect x="981" y="590" width="1" height="5" fill="#000" />
<rect x="1001" y="590" width="1" height="5" fill="#000" />
<rect x="1021" y="590" width="1" height="5" fill="#000" />
<rect x="1041" y="590" width="1" height="5" fill="#000" />
<text x="902.5" y="486.5" font-size="8" fill="#000" text-anchor="start" font-weight="normal" font-family="'DejaVu Sans','Liberation Sans',sans-serif" xml:space="preserve" textLength="51" lengthAdjust="spacingAndGlyphs" stroke="#000" stroke-width="0.1">SR Winds (kt)</text>
<text x="901.5" y="498" font-size="8" fill="#000" text-anchor="start" font-weight="normal" font-family="'DejaVu Sans','Liberation Sans',sans-serif" xml:space="preserve" textLength="36" lengthAdjust="spacingAndGlyphs" stroke="#000" stroke-width="0.1">vs Height</text>
<text x="976.5" y="486" font-size="8" fill="#ee11ee" text-anchor="start" font-weight="normal" font-family="'DejaVu Sans','Liberation Sans',sans-serif" xml:space="preserve" textLength="24" lengthAdjust="spacingAndGlyphs" stroke="#ee11ee" stroke-width="0.1">classic</text>
<text x="976.5" y="498" font-size="8" fill="#ee11ee" text-anchor="start" font-weight="normal" font-family="'DejaVu Sans','Liberation Sans',sans-serif" xml:space="preserve" textLength="32" lengthAdjust="spacingAndGlyphs" stroke="#ee11ee" stroke-width="0.1">supercell</text>
<line x1="911.5" y1="476" x2="911.5" y2="595" stroke="#000" stroke-width="1" stroke-dasharray="3 3" class="crisp"/>
<line x1="961.5" y1="476" x2="961.5" y2="535" stroke="#ee11ee" stroke-width="1" stroke-dasharray="3 3" class="crisp"/>
<line x1="1021.5" y1="476" x2="1021.5" y2="535" stroke="#ee11ee" stroke-width="1" stroke-dasharray="3 3" class="crisp"/>
<g clip-path="url(#srclip)">
<polyline points="938.3,476 921.7,477.8 928.5,479.6 974.8,483.7 960.2,486.7 969.4,490 976.6,491.7 994.7,498 983.7,501.5 969.4,503.3 983.7,505.1 986.4,508.7 996.2,512.8 996.2,518.5 992.6,522 974.8,526.5 958.8,532.7 951.6,538.4 933.8,542 921.7,543.8 919.5,548.4 901.7,552.3 899.9,556.8 893.7,559.4 898.2,562.6 912.4,564.4 920.4,567.5 916,571.6 919.5,572.8 913.3,576.4 913.3,579 907.1,581.2 907.1,583.5 913.3,586.2 928.5,588 941.8,591.5 926.7,592.9 924,594.7" fill="none" stroke="#ff0000" stroke-width="2.2" stroke-linejoin="round"/>
</g>
<rect x="987" y="512" width="2" height="15" fill="#ee11ee" />
<rect x="895" y="550" width="2" height="14" fill="#1e90ff" />
<rect x="917" y="580" width="2" height="15" fill="#a01010" />
<text x="1054.5" y="486.5" font-size="8" fill="#000" text-anchor="start" font-weight="normal" font-family="'DejaVu Sans','Liberation Sans',sans-serif" xml:space="preserve" textLength="109" lengthAdjust="spacingAndGlyphs" stroke="#000" stroke-width="0.1">Significant Hail Param (SHIP)</text>
<text x="1053.5" y="586.3" font-size="8" fill="#0b4a8c" text-anchor="end" font-weight="normal" font-family="'DejaVu Sans','Liberation Sans',sans-serif" xml:space="preserve"  stroke="#0b4a8c" stroke-width="0.1">0</text>
<line x1="1056" y1="566.5" x2="1176" y2="566.5" stroke="#0b4a8c" stroke-width="1" stroke-dasharray="3 3" class="crisp"/>
<text x="1053.5" y="569.3" font-size="8" fill="#0b4a8c" text-anchor="end" font-weight="normal" font-family="'DejaVu Sans','Liberation Sans',sans-serif" xml:space="preserve"  stroke="#0b4a8c" stroke-width="0.1">1</text>
<line x1="1056" y1="549.5" x2="1176" y2="549.5" stroke="#0b4a8c" stroke-width="1" stroke-dasharray="3 3" class="crisp"/>
<text x="1053.5" y="552.2" font-size="8" fill="#0b4a8c" text-anchor="end" font-weight="normal" font-family="'DejaVu Sans','Liberation Sans',sans-serif" xml:space="preserve"  stroke="#0b4a8c" stroke-width="0.1">2</text>
<line x1="1056" y1="532.5" x2="1176" y2="532.5" stroke="#0b4a8c" stroke-width="1" stroke-dasharray="3 3" class="crisp"/>
<text x="1053.5" y="535.2" font-size="8" fill="#0b4a8c" text-anchor="end" font-weight="normal" font-family="'DejaVu Sans','Liberation Sans',sans-serif" xml:space="preserve"  stroke="#0b4a8c" stroke-width="0.1">3</text>
<line x1="1056" y1="515.5" x2="1176" y2="515.5" stroke="#0b4a8c" stroke-width="1" stroke-dasharray="3 3" class="crisp"/>
<text x="1053.5" y="518.2" font-size="8" fill="#0b4a8c" text-anchor="end" font-weight="normal" font-family="'DejaVu Sans','Liberation Sans',sans-serif" xml:space="preserve"  stroke="#0b4a8c" stroke-width="0.1">4</text>
<line x1="1056" y1="498.5" x2="1176" y2="498.5" stroke="#0b4a8c" stroke-width="1" stroke-dasharray="3 3" class="crisp"/>
<text x="1053.5" y="501.1" font-size="8" fill="#0b4a8c" text-anchor="end" font-weight="normal" font-family="'DejaVu Sans','Liberation Sans',sans-serif" xml:space="preserve"  stroke="#0b4a8c" stroke-width="0.1">5</text>
<rect x="1044" y="582" width="132" height="2" fill="#cd8500" />
<rect x="1087" y="549" width="3" height="11" fill="#0ccc0c" />
<rect x="1073.5" y="560.5" width="25" height="10" fill="none" stroke="#0ccc0c" stroke-width="3" class="crisp"/>
<rect x="1132" y="522" width="3" height="12" fill="#008b00" />
<rect x="1132" y="554" width="3" height="6" fill="#008b00" />
<rect x="1118.5" y="534.5" width="27" height="20" fill="none" stroke="#008b00" stroke-width="3" class="crisp"/>
<text x="1084" y="593" font-size="8" fill="#000" text-anchor="middle" font-weight="normal" font-family="'DejaVu Sans','Liberation Sans',sans-serif" xml:space="preserve"  stroke="#000" stroke-width="0.1">&lt; 2 in</text>
<text x="1131" y="593" font-size="8" fill="#000" text-anchor="middle" font-weight="normal" font-family="'DejaVu Sans','Liberation Sans',sans-serif" xml:space="preserve"  stroke="#000" stroke-width="0.1">&gt;= 2 in</text>
<rect x="17" y="611" width="1159" height="220" fill="#12508d" stroke="#000" stroke-width="2" class="crisp"/>
<rect x="21.5" y="612.5" width="350" height="213" fill="#fff" stroke="#000" stroke-width="1" class="crisp"/>
<rect x="22" y="627" width="349" height="1" fill="#000" />
<text x="26.5" y="625.5" font-size="14.2" fill="#000" text-anchor="start" font-weight="normal" font-family="'Liberation Sans',sans-serif" xml:space="preserve"  stroke="#000" stroke-width="0.2">PARCEL</text>
<text x="148" y="625.5" font-size="14.2" fill="#000" text-anchor="end" font-weight="normal" font-family="'Liberation Sans',sans-serif" xml:space="preserve"  stroke="#000" stroke-width="0.2">CAPE</text>
<text x="196.5" y="625.5" font-size="14.2" fill="#000" text-anchor="end" font-weight="normal" font-family="'Liberation Sans',sans-serif" xml:space="preserve"  stroke="#000" stroke-width="0.2">CINH</text>
<text x="240" y="625.5" font-size="14.2" fill="#000" text-anchor="end" font-weight="normal" font-family="'Liberation Sans',sans-serif" xml:space="preserve"  stroke="#000" stroke-width="0.2">LCL</text>
<text x="276" y="625.5" font-size="14.2" fill="#000" text-anchor="end" font-weight="normal" font-family="'Liberation Sans',sans-serif" xml:space="preserve"  stroke="#000" stroke-width="0.2">LI</text>
<text x="315.6" y="625.5" font-size="14.2" fill="#000" text-anchor="end" font-weight="normal" font-family="'Liberation Sans',sans-serif" xml:space="preserve"  stroke="#000" stroke-width="0.2">LFC</text>
<text x="356.9" y="625.5" font-size="14.2" fill="#000" text-anchor="end" font-weight="normal" font-family="'Liberation Sans',sans-serif" xml:space="preserve"  stroke="#000" stroke-width="0.2">EL</text>
<text x="26.5" y="640.6" font-size="10.3" fill="#000" text-anchor="start" font-weight="normal" font-family="'Liberation Sans',sans-serif" xml:space="preserve"  stroke="#000" stroke-width="0.2">SURFACE</text>
<text x="145.2" y="640.6" font-size="10.3" fill="#000" text-anchor="end" font-weight="normal" font-family="'Liberation Sans',sans-serif" xml:space="preserve"  stroke="#000" stroke-width="0.2">460</text>
<text x="190" y="640.6" font-size="10.3" fill="#000" text-anchor="end" font-weight="normal" font-family="'Liberation Sans',sans-serif" xml:space="preserve"  stroke="#000" stroke-width="0.2">-714</text>
<text x="240.5" y="640.6" font-size="10.3" fill="#000" text-anchor="end" font-weight="normal" font-family="'Liberation Sans',sans-serif" xml:space="preserve"  stroke="#000" stroke-width="0.2">65m</text>
<text x="275.6" y="640.6" font-size="10.3" fill="#000" text-anchor="end" font-weight="normal" font-family="'Liberation Sans',sans-serif" xml:space="preserve"  stroke="#000" stroke-width="0.2">-2</text>
<text x="320.1" y="640.6" font-size="10.3" fill="#000" text-anchor="end" font-weight="normal" font-family="'Liberation Sans',sans-serif" xml:space="preserve"  stroke="#000" stroke-width="0.2">3540m</text>
<text x="365.3" y="640.6" font-size="10.3" fill="#000" text-anchor="end" font-weight="normal" font-family="'Liberation Sans',sans-serif" xml:space="preserve"  stroke="#000" stroke-width="0.2">31751'</text>
<text x="26.5" y="654.6" font-size="10.3" fill="#000" text-anchor="start" font-weight="normal" font-family="'Liberation Sans',sans-serif" xml:space="preserve"  stroke="#000" stroke-width="0.2">MIXED LAYER</text>
<text x="145.2" y="654.6" font-size="10.3" fill="#000" text-anchor="end" font-weight="normal" font-family="'Liberation Sans',sans-serif" xml:space="preserve"  stroke="#000" stroke-width="0.2">0</text>
<text x="190" y="654.6" font-size="10.3" fill="#000" text-anchor="end" font-weight="normal" font-family="'Liberation Sans',sans-serif" xml:space="preserve"  stroke="#000" stroke-width="0.2">0</text>
<text x="240.5" y="654.6" font-size="10.3" fill="#000" text-anchor="end" font-weight="normal" font-family="'Liberation Sans',sans-serif" xml:space="preserve"  stroke="#000" stroke-width="0.2">3685m</text>
<text x="275.6" y="654.6" font-size="10.3" fill="#000" text-anchor="end" font-weight="normal" font-family="'Liberation Sans',sans-serif" xml:space="preserve"  stroke="#000" stroke-width="0.2">2</text>
<text x="320.1" y="654.6" font-size="10.3" fill="#000" text-anchor="end" font-weight="normal" font-family="'Liberation Sans',sans-serif" xml:space="preserve"  stroke="#000" stroke-width="0.2">M</text>
<text x="365.3" y="654.6" font-size="10.3" fill="#000" text-anchor="end" font-weight="normal" font-family="'Liberation Sans',sans-serif" xml:space="preserve"  stroke="#000" stroke-width="0.2">12087'</text>
<text x="26.5" y="668.7" font-size="10.3" fill="#000" text-anchor="start" font-weight="normal" font-family="'Liberation Sans',sans-serif" xml:space="preserve"  stroke="#000" stroke-width="0.2">FCST SURFACE</text>
<text x="145.2" y="668.7" font-size="10.3" fill="#000" text-anchor="end" font-weight="normal" font-family="'Liberation Sans',sans-serif" xml:space="preserve"  stroke="#000" stroke-width="0.2">69</text>
<text x="190" y="668.7" font-size="10.3" fill="#000" text-anchor="end" font-weight="normal" font-family="'Liberation Sans',sans-serif" xml:space="preserve"  stroke="#000" stroke-width="0.2">0</text>
<text x="240.5" y="668.7" font-size="10.3" fill="#000" text-anchor="end" font-weight="normal" font-family="'Liberation Sans',sans-serif" xml:space="preserve"  stroke="#000" stroke-width="0.2">4151m</text>
<text x="275.6" y="668.7" font-size="10.3" fill="#000" text-anchor="end" font-weight="normal" font-family="'Liberation Sans',sans-serif" xml:space="preserve"  stroke="#000" stroke-width="0.2">-0</text>
<text x="320.1" y="668.7" font-size="10.3" fill="#000" text-anchor="end" font-weight="normal" font-family="'Liberation Sans',sans-serif" xml:space="preserve"  stroke="#000" stroke-width="0.2">5195m</text>
<text x="365.3" y="668.7" font-size="10.3" fill="#000" text-anchor="end" font-weight="normal" font-family="'Liberation Sans',sans-serif" xml:space="preserve"  stroke="#000" stroke-width="0.2">24146'</text>
<text x="26.5" y="682.7" font-size="10.3" fill="#000" text-anchor="start" font-weight="normal" font-family="'Liberation Sans',sans-serif" xml:space="preserve"  stroke="#000" stroke-width="0.2">MU</text>
<text x="145.2" y="682.7" font-size="10.3" fill="#000" text-anchor="end" font-weight="normal" font-family="'Liberation Sans',sans-serif" xml:space="preserve"  stroke="#000" stroke-width="0.2">460</text>
<text x="190" y="682.7" font-size="10.3" fill="#000" text-anchor="end" font-weight="normal" font-family="'Liberation Sans',sans-serif" xml:space="preserve"  stroke="#000" stroke-width="0.2">-714</text>
<text x="240.5" y="682.7" font-size="10.3" fill="#000" text-anchor="end" font-weight="normal" font-family="'Liberation Sans',sans-serif" xml:space="preserve"  stroke="#000" stroke-width="0.2">65m</text>
<text x="275.6" y="682.7" font-size="10.3" fill="#000" text-anchor="end" font-weight="normal" font-family="'Liberation Sans',sans-serif" xml:space="preserve"  stroke="#000" stroke-width="0.2">-2</text>
<text x="320.1" y="682.7" font-size="10.3" fill="#000" text-anchor="end" font-weight="normal" font-family="'Liberation Sans',sans-serif" xml:space="preserve"  stroke="#000" stroke-width="0.2">3540m</text>
<text x="365.3" y="682.7" font-size="10.3" fill="#000" text-anchor="end" font-weight="normal" font-family="'Liberation Sans',sans-serif" xml:space="preserve"  stroke="#000" stroke-width="0.2">31751'</text>
<text x="55.7" y="682.7" font-size="10.3" fill="#000" text-anchor="start" font-weight="normal" font-family="'Liberation Sans',sans-serif" xml:space="preserve"  stroke="#000" stroke-width="0.2">(888 mb)</text>
<rect x="24" y="671" width="344" height="2" fill="#cd8500" />
<rect x="24" y="684" width="344" height="2" fill="#cd8500" />
<rect x="24" y="671" width="2" height="15" fill="#cd8500" />
<rect x="366" y="671" width="2" height="15" fill="#cd8500" />
<rect x="22" y="686" width="349" height="2" fill="#000" />
<text x="26.5" y="699.9" font-size="10" fill="#000" text-anchor="start" font-weight="normal" font-family="'Liberation Sans',sans-serif" xml:space="preserve" word-spacing="0.9" stroke="#000" stroke-width="0.2">PW = 0.56 .in</text>
<text x="26.5" y="712.6" font-size="10" fill="#000" text-anchor="start" font-weight="normal" font-family="'Liberation Sans',sans-serif" xml:space="preserve" word-spacing="0.9" stroke="#000" stroke-width="0.2">K = 16</text>
<text x="26.5" y="725.3" font-size="10" fill="#000" text-anchor="start" font-weight="normal" font-family="'Liberation Sans',sans-serif" xml:space="preserve" word-spacing="0.9" stroke="#000" stroke-width="0.2">MidRH = 32%</text>
<text x="26.5" y="738" font-size="10" fill="#000" text-anchor="start" font-weight="normal" font-family="'Liberation Sans',sans-serif" xml:space="preserve" word-spacing="0.9" stroke="#000" stroke-width="0.2">LowRH = 18%</text>
<text x="26.5" y="751.5" font-size="10" fill="#000" text-anchor="start" font-weight="normal" font-family="'Liberation Sans',sans-serif" xml:space="preserve" word-spacing="0.9" stroke="#000" stroke-width="0.2">SigSevere = 0 m3/s3</text>
<text x="110.8" y="699.9" font-size="10" fill="#000" text-anchor="start" font-weight="normal" font-family="'Liberation Sans',sans-serif" xml:space="preserve" word-spacing="0.9" stroke="#000" stroke-width="0.2">3CAPE = 0 J/kg</text>
<text x="110.8" y="712.6" font-size="10" fill="#000" text-anchor="start" font-weight="normal" font-family="'Liberation Sans',sans-serif" xml:space="preserve" word-spacing="0.9" stroke="#000" stroke-width="0.2">DCAPE = 1638 J/kg</text>
<text x="110.8" y="725.3" font-size="10" fill="#000" text-anchor="start" font-weight="normal" font-family="'Liberation Sans',sans-serif" xml:space="preserve" word-spacing="0.9" stroke="#000" stroke-width="0.2">DownT = 52 F</text>
<text x="110.8" y="738" font-size="10" fill="#000" text-anchor="start" font-weight="normal" font-family="'Liberation Sans',sans-serif" xml:space="preserve" word-spacing="0.9" stroke="#000" stroke-width="0.2">MeanW = 4.2 g/kg</text>
<text x="221.3" y="699.9" font-size="10" fill="#000" text-anchor="start" font-weight="normal" font-family="'Liberation Sans',sans-serif" xml:space="preserve" word-spacing="0.9" stroke="#000" stroke-width="0.2">WBZ = 8415'</text>
<text x="221.3" y="712.6" font-size="10" fill="#000" text-anchor="start" font-weight="normal" font-family="'Liberation Sans',sans-serif" xml:space="preserve" word-spacing="0.9" stroke="#000" stroke-width="0.2">FZL = 11036'</text>
<text x="221.3" y="725.3" font-size="10" fill="#000" text-anchor="start" font-weight="normal" font-family="'Liberation Sans',sans-serif" xml:space="preserve" word-spacing="0.9" stroke="#000" stroke-width="0.2">ConvT = 92F</text>
<text x="221.3" y="738" font-size="10" fill="#000" text-anchor="start" font-weight="normal" font-family="'Liberation Sans',sans-serif" xml:space="preserve" word-spacing="0.9" stroke="#000" stroke-width="0.2">MaxT = 93F</text>
<text x="301.4" y="699.9" font-size="10" fill="#000" text-anchor="start" font-weight="normal" font-family="'Liberation Sans',sans-serif" xml:space="preserve" word-spacing="0.9" stroke="#000" stroke-width="0.2">WNDG = 0.0</text>
<text x="301.4" y="712.6" font-size="10" fill="#000" text-anchor="start" font-weight="normal" font-family="'Liberation Sans',sans-serif" xml:space="preserve" word-spacing="0.9" stroke="#000" stroke-width="0.2">ESP = 0.0</text>
<text x="301.4" y="725.3" font-size="10" fill="#000" text-anchor="start" font-weight="normal" font-family="'Liberation Sans',sans-serif" xml:space="preserve" word-spacing="0.9" stroke="#000" stroke-width="0.2">MMP = 0.75</text>
<text x="301.4" y="738" font-size="10" fill="#000" text-anchor="start" font-weight="normal" font-family="'Liberation Sans',sans-serif" xml:space="preserve" word-spacing="0.9" stroke="#000" stroke-width="0.2">NCAPE = 0.07</text>
<rect x="22" y="754" width="179" height="2" fill="#000" />
<text x="26.5" y="770" font-size="10" fill="#000" text-anchor="start" font-weight="normal" font-family="'Liberation Sans',sans-serif" xml:space="preserve" textLength="117.4" lengthAdjust="spacing" stroke="#000" stroke-width="0.2">Sfc-3km Agl Lapse Rate =</text>
<text x="151" y="770" font-size="10" fill="#000" text-anchor="start" font-weight="normal" font-family="'Liberation Sans',sans-serif" xml:space="preserve" textLength="41" lengthAdjust="spacing" stroke="#000" stroke-width="0.2">4.0 C/km</text>
<text x="26.5" y="785.1" font-size="10" fill="#000" text-anchor="start" font-weight="normal" font-family="'Liberation Sans',sans-serif" xml:space="preserve" textLength="108.3" lengthAdjust="spacing" stroke="#000" stroke-width="0.2">3-6km Agl Lapse Rate =</text>
<text x="151" y="785.1" font-size="10" fill="#000" text-anchor="start" font-weight="normal" font-family="'Liberation Sans',sans-serif" xml:space="preserve" textLength="41" lengthAdjust="spacing" stroke="#000" stroke-width="0.2">7.8 C/km</text>
<text x="26.5" y="800.2" font-size="10" fill="#000" text-anchor="start" font-weight="normal" font-family="'Liberation Sans',sans-serif" xml:space="preserve" textLength="115.5" lengthAdjust="spacing" stroke="#000" stroke-width="0.2">850-500mb Lapse Rate =</text>
<text x="151" y="800.2" font-size="10" fill="#000" text-anchor="start" font-weight="normal" font-family="'Liberation Sans',sans-serif" xml:space="preserve" textLength="41" lengthAdjust="spacing" stroke="#000" stroke-width="0.2">7.9 C/km</text>
<text x="26.5" y="815.3" font-size="10" fill="#000" text-anchor="start" font-weight="normal" font-family="'Liberation Sans',sans-serif" xml:space="preserve" textLength="115.5" lengthAdjust="spacing" stroke="#000" stroke-width="0.2">700-500mb Lapse Rate =</text>
<text x="151" y="815.3" font-size="10" fill="#000" text-anchor="start" font-weight="normal" font-family="'Liberation Sans',sans-serif" xml:space="preserve" textLength="41" lengthAdjust="spacing" stroke="#000" stroke-width="0.2">8.6 C/km</text>
<rect x="201" y="742" width="171" height="84" fill="#fff" stroke="#000" stroke-width="2" class="crisp"/>
<text x="211.7" y="757.8" font-size="14" fill="#cd8500" text-anchor="start" font-weight="bold" font-family="'Liberation Sans',sans-serif" xml:space="preserve" >Supercell = 0.0</text>
<text x="211.7" y="772.8" font-size="14" fill="#cd8500" text-anchor="start" font-weight="bold" font-family="'Liberation Sans',sans-serif" xml:space="preserve" >Left Supercell = 0.0</text>
<text x="211.7" y="787.7" font-size="14" fill="#cd8500" text-anchor="start" font-weight="bold" font-family="'Liberation Sans',sans-serif" xml:space="preserve" >STP (eff layer) = 0.0</text>
<text x="211.7" y="802.6" font-size="14" fill="#cd8500" text-anchor="start" font-weight="bold" font-family="'Liberation Sans',sans-serif" xml:space="preserve" >STP (fix layer) = 0.0</text>
<text x="211.7" y="817.6" font-size="14" fill="#cd8500" text-anchor="start" font-weight="bold" font-family="'Liberation Sans',sans-serif" xml:space="preserve" >Sig Hail = 0.0</text>
<rect x="379.5" y="612.5" width="285" height="213" fill="#fff" stroke="#000" stroke-width="1" class="crisp"/>
<rect x="380" y="627" width="284" height="1" fill="#000" />
<text x="453.3" y="622.6" font-size="10.5" fill="#000" text-anchor="start" font-weight="normal" font-family="'Liberation Sans',sans-serif" xml:space="preserve"  stroke="#000" stroke-width="0.2">SRH(m2/s2)</text>
<text x="517" y="622.6" font-size="10.5" fill="#000" text-anchor="start" font-weight="normal" font-family="'Liberation Sans',sans-serif" xml:space="preserve"  stroke="#000" stroke-width="0.2">Shear(kt)</text>
<text x="573.2" y="622.6" font-size="10.5" fill="#000" text-anchor="start" font-weight="normal" font-family="'Liberation Sans',sans-serif" xml:space="preserve"  stroke="#000" stroke-width="0.2">MnWind</text>
<text x="629.3" y="622.6" font-size="10.5" fill="#000" text-anchor="start" font-weight="normal" font-family="'Liberation Sans',sans-serif" xml:space="preserve"  stroke="#000" stroke-width="0.2">SRW</text>
<text x="384.5" y="643" font-size="10.5" fill="#000" text-anchor="start" font-weight="normal" font-family="'Liberation Sans',sans-serif" xml:space="preserve"  stroke="#000" stroke-width="0.2">SFC - 1 km</text>
<text x="503.3" y="643" font-size="10.5" fill="#000" text-anchor="end" font-weight="normal" font-family="'Liberation Sans',sans-serif" xml:space="preserve"  stroke="#000" stroke-width="0.2">215</text>
<text x="558" y="643" font-size="10.5" fill="#000" text-anchor="end" font-weight="normal" font-family="'Liberation Sans',sans-serif" xml:space="preserve"  stroke="#000" stroke-width="0.2">28</text>
<text x="608.5" y="643" font-size="10.5" fill="#000" text-anchor="end" font-weight="normal" font-family="'Liberation Sans',sans-serif" xml:space="preserve"  stroke="#000" stroke-width="0.2">209/29</text>
<text x="658.8" y="643" font-size="10.5" fill="#000" text-anchor="end" font-weight="normal" font-family="'Liberation Sans',sans-serif" xml:space="preserve"  stroke="#000" stroke-width="0.2">171/22</text>
<text x="384.5" y="653.7" font-size="10.5" fill="#000" text-anchor="start" font-weight="normal" font-family="'Liberation Sans',sans-serif" xml:space="preserve"  stroke="#000" stroke-width="0.2">SFC - 3 km</text>
<text x="503.3" y="653.7" font-size="10.5" fill="#000" text-anchor="end" font-weight="normal" font-family="'Liberation Sans',sans-serif" xml:space="preserve"  stroke="#000" stroke-width="0.2">207</text>
<text x="558" y="653.7" font-size="10.5" fill="#000" text-anchor="end" font-weight="normal" font-family="'Liberation Sans',sans-serif" xml:space="preserve"  stroke="#000" stroke-width="0.2">25</text>
<text x="608.5" y="653.7" font-size="10.5" fill="#000" text-anchor="end" font-weight="normal" font-family="'Liberation Sans',sans-serif" xml:space="preserve"  stroke="#000" stroke-width="0.2">215/27</text>
<text x="658.8" y="653.7" font-size="10.5" fill="#000" text-anchor="end" font-weight="normal" font-family="'Liberation Sans',sans-serif" xml:space="preserve"  stroke="#000" stroke-width="0.2">174/18</text>
<text x="384.5" y="683" font-size="10.5" fill="#000" text-anchor="start" font-weight="normal" font-family="'Liberation Sans',sans-serif" xml:space="preserve"  stroke="#000" stroke-width="0.2">SFC - 6 km</text>
<text x="558" y="683" font-size="10.5" fill="#000" text-anchor="end" font-weight="normal" font-family="'Liberation Sans',sans-serif" xml:space="preserve"  stroke="#000" stroke-width="0.2">36</text>
<text x="608.5" y="683" font-size="10.5" fill="#000" text-anchor="end" font-weight="normal" font-family="'Liberation Sans',sans-serif" xml:space="preserve"  stroke="#000" stroke-width="0.2">220/25</text>
<text x="658.8" y="683" font-size="10.5" fill="#000" text-anchor="end" font-weight="normal" font-family="'Liberation Sans',sans-serif" xml:space="preserve"  stroke="#000" stroke-width="0.2">175/16</text>
<text x="384.5" y="694" font-size="10.5" fill="#000" text-anchor="start" font-weight="normal" font-family="'Liberation Sans',sans-serif" xml:space="preserve"  stroke="#000" stroke-width="0.2">SFC - 8 km</text>
<text x="558" y="694" font-size="10.5" fill="#000" text-anchor="end" font-weight="normal" font-family="'Liberation Sans',sans-serif" xml:space="preserve"  stroke="#000" stroke-width="0.2">59</text>
<text x="608.5" y="694" font-size="10.5" fill="#000" text-anchor="end" font-weight="normal" font-family="'Liberation Sans',sans-serif" xml:space="preserve"  stroke="#000" stroke-width="0.2">226/27</text>
<text x="658.8" y="694" font-size="10.5" fill="#000" text-anchor="end" font-weight="normal" font-family="'Liberation Sans',sans-serif" xml:space="preserve"  stroke="#000" stroke-width="0.2">187/15</text>
<text x="384.5" y="704.8" font-size="10.5" fill="#000" text-anchor="start" font-weight="normal" font-family="'Liberation Sans',sans-serif" xml:space="preserve"  stroke="#000" stroke-width="0.2">LCL - EL (Cloud Layer)</text>
<text x="558" y="704.8" font-size="10.5" fill="#000" text-anchor="end" font-weight="normal" font-family="'Liberation Sans',sans-serif" xml:space="preserve"  stroke="#000" stroke-width="0.2">73</text>
<text x="608.5" y="704.8" font-size="10.5" fill="#000" text-anchor="end" font-weight="normal" font-family="'Liberation Sans',sans-serif" xml:space="preserve"  stroke="#000" stroke-width="0.2">231/28</text>
<text x="658.8" y="704.8" font-size="10.5" fill="#000" text-anchor="end" font-weight="normal" font-family="'Liberation Sans',sans-serif" xml:space="preserve"  stroke="#000" stroke-width="0.2">193/15</text>
<text x="384.5" y="715.5" font-size="10.5" fill="#000" text-anchor="start" font-weight="normal" font-family="'Liberation Sans',sans-serif" xml:space="preserve"  stroke="#000" stroke-width="0.2">Eff Shear (EBWD)</text>
<text x="558" y="715.5" font-size="10.5" fill="#000" text-anchor="end" font-weight="normal" font-family="'Liberation Sans',sans-serif" xml:space="preserve"  stroke="#000" stroke-width="0.2">M</text>
<text x="608.5" y="715.5" font-size="10.5" fill="#000" text-anchor="end" font-weight="normal" font-family="'Liberation Sans',sans-serif" xml:space="preserve"  stroke="#000" stroke-width="0.2">M</text>
<text x="658.8" y="715.5" font-size="10.5" fill="#000" text-anchor="end" font-weight="normal" font-family="'Liberation Sans',sans-serif" xml:space="preserve"  stroke="#000" stroke-width="0.2">M</text>
<text x="384.5" y="733.3" font-size="10.5" fill="#000" text-anchor="start" font-weight="normal" font-family="'Liberation Sans',sans-serif" xml:space="preserve"  stroke="#000" stroke-width="0.2">BRN Shear =</text>
<text x="450.5" y="733.3" font-size="10.5" fill="#000" text-anchor="start" font-weight="normal" font-family="'Liberation Sans',sans-serif" xml:space="preserve"  stroke="#000" stroke-width="0.2">11 m²/s²</text>
<text x="384.5" y="744.4" font-size="10.5" fill="#000" text-anchor="start" font-weight="normal" font-family="'Liberation Sans',sans-serif" xml:space="preserve"  stroke="#000" stroke-width="0.2">4-6km SR Wind =</text>
<text x="533.6" y="744.4" font-size="10.5" fill="#000" text-anchor="end" font-weight="normal" font-family="'Liberation Sans',sans-serif" xml:space="preserve"  stroke="#000" stroke-width="0.2">209/8 kt</text>
<text x="384.5" y="762.2" font-size="10.5" fill="#000" text-anchor="start" font-weight="normal" font-family="'Liberation Sans',sans-serif" xml:space="preserve"  stroke="#000" stroke-width="0.2">.....Storm Motion Vectors.....</text>
<text x="384.5" y="773.6" font-size="10.5" fill="#000" text-anchor="start" font-weight="normal" font-family="'Liberation Sans',sans-serif" xml:space="preserve"  stroke="#000" stroke-width="0.2">Bunkers Right =</text>
<text x="533.6" y="773.6" font-size="10.5" fill="#000" text-anchor="end" font-weight="normal" font-family="'Liberation Sans',sans-serif" xml:space="preserve"  stroke="#000" stroke-width="0.2">257/18 kt</text>
<text x="384.5" y="784.7" font-size="10.5" fill="#000" text-anchor="start" font-weight="normal" font-family="'Liberation Sans',sans-serif" xml:space="preserve"  stroke="#000" stroke-width="0.2">Bunkers Left =</text>
<text x="533.6" y="784.7" font-size="10.5" fill="#000" text-anchor="end" font-weight="normal" font-family="'Liberation Sans',sans-serif" xml:space="preserve"  stroke="#000" stroke-width="0.2">206/37 kt</text>
<text x="384.5" y="802.9" font-size="10.5" fill="#000" text-anchor="start" font-weight="normal" font-family="'Liberation Sans',sans-serif" xml:space="preserve"  stroke="#000" stroke-width="0.2">Corfidi Downshear =</text>
<text x="533.6" y="802.9" font-size="10.5" fill="#000" text-anchor="end" font-weight="normal" font-family="'Liberation Sans',sans-serif" xml:space="preserve"  stroke="#000" stroke-width="0.2">255/35 kt</text>
<text x="384.5" y="813.9" font-size="10.5" fill="#000" text-anchor="start" font-weight="normal" font-family="'Liberation Sans',sans-serif" xml:space="preserve"  stroke="#000" stroke-width="0.2">Corfidi Upshear =</text>
<text x="533.6" y="813.9" font-size="10.5" fill="#000" text-anchor="end" font-weight="normal" font-family="'Liberation Sans',sans-serif" xml:space="preserve"  stroke="#000" stroke-width="0.2">309/12 kt</text>
<path d="M605,760.5 L568.2,772 L554,757.2 M575.5,769.6 L561.4,754.5 M582.3,767.3 L568.8,752.8" stroke="#1e90ff" stroke-width="2" fill="none"/>
<path d="M605,760.5 L581,789.8 L559,784.7 M585.6,784 L564.1,778.7 M590,778 L571.5,773.6" stroke="#ee1c1c" stroke-width="2" fill="none"/>
<path d="M606,759 L601,760 L604,763.5 Z" fill="#1e90ff"/>
<text x="564" y="814" font-size="10.5" fill="#1e90ff" text-anchor="start" font-weight="normal" font-family="'Liberation Sans',sans-serif" xml:space="preserve"  stroke="#1e90ff" stroke-width="0.2">1km &amp; 6km AGL</text>
<text x="564" y="823.3" font-size="10.5" fill="#1e90ff" text-anchor="start" font-weight="normal" font-family="'Liberation Sans',sans-serif" xml:space="preserve"  stroke="#1e90ff" stroke-width="0.2">Wind Barbs</text>
<text x="596" y="840.5" font-size="10" fill="#7b2a90" text-anchor="middle" font-weight="normal" font-family="'Liberation Sans',sans-serif" xml:space="preserve" >AMA Tabular Data</text>
<rect x="671.5" y="612.5" width="191" height="45" fill="#fff" stroke="#000" stroke-width="1" class="crisp"/>
<text x="765" y="624.3" font-size="10" fill="#000" text-anchor="middle" font-weight="normal" font-family="'Liberation Sans',sans-serif" xml:space="preserve" textLength="178" lengthAdjust="spacing" stroke="#000" stroke-width="0.2">* * * BEST GUESS PRECIP TYPE * * *</text>
<text x="766" y="641.3" font-size="13.6" fill="#000" text-anchor="middle" font-weight="bold" font-family="'Liberation Sans',sans-serif" xml:space="preserve" >Rain.</text>
<text x="765.4" y="652.7" font-size="10" fill="#000" text-anchor="middle" font-weight="normal" font-family="'Liberation Sans',sans-serif" xml:space="preserve" textLength="165.5" lengthAdjust="spacing" stroke="#000" stroke-width="0.2">Based on sfc temperature of 59.7 F.</text>
<rect x="671.5" y="660.5" width="191" height="165" fill="#fff" stroke="#000" stroke-width="1" class="crisp"/>
<text x="766" y="674.6" font-size="14.3" fill="#000" text-anchor="middle" font-weight="bold" font-family="'Liberation Sans',sans-serif" xml:space="preserve" textLength="180" lengthAdjust="spacing">SARS - Sounding Analogs</text>
<rect x="672" y="680" width="190" height="1" fill="#000" />
<rect x="672" y="693" width="190" height="1" fill="#000" />
<rect x="771" y="681" width="1" height="144" fill="#000" />
<text x="718.2" y="690.6" font-size="10" fill="#000" text-anchor="middle" font-weight="normal" font-family="'Liberation Sans',sans-serif" xml:space="preserve" textLength="61.6" lengthAdjust="spacing" stroke="#000" stroke-width="0.2">SUPERCELL</text>
<text x="813" y="690.6" font-size="10" fill="#000" text-anchor="middle" font-weight="normal" font-family="'Liberation Sans',sans-serif" xml:space="preserve" textLength="59.3" lengthAdjust="spacing" stroke="#000" stroke-width="0.2">SGFNT HAIL</text>
<text x="717" y="740" font-size="7.5" fill="#000" text-anchor="middle" font-weight="normal" font-family="'DejaVu Sans','Liberation Sans',sans-serif" xml:space="preserve" textLength="70.5" lengthAdjust="spacingAndGlyphs" stroke="#000" stroke-width="0.1">No Quality Matches</text>
<text x="816.7" y="740" font-size="7.5" fill="#000" text-anchor="middle" font-weight="normal" font-family="'DejaVu Sans','Liberation Sans',sans-serif" xml:space="preserve" textLength="70.5" lengthAdjust="spacingAndGlyphs" stroke="#000" stroke-width="0.1">No Quality Matches</text>
<rect x="868.5" y="612.5" width="302" height="213" fill="#fff" stroke="#000" stroke-width="1" class="crisp"/>
<text x="1035" y="625.4" font-size="14.3" fill="#000" text-anchor="middle" font-weight="bold" font-family="'Liberation Sans',sans-serif" xml:space="preserve" textLength="204" lengthAdjust="spacing">Effective-Layer STP (with CIN)</text>
<text x="874.6" y="820.1" font-size="10" fill="#0b4a8c" text-anchor="middle" font-weight="normal" font-family="'Liberation Sans',sans-serif" xml:space="preserve"  stroke="#0b4a8c" stroke-width="0.2">0</text>
<line x1="882" y1="799.5" x2="1170" y2="799.5" stroke="#0b4a8c" stroke-width="1" stroke-dasharray="3 3" class="crisp"/>
<text x="874.6" y="803.1" font-size="10" fill="#0b4a8c" text-anchor="middle" font-weight="normal" font-family="'Liberation Sans',sans-serif" xml:space="preserve"  stroke="#0b4a8c" stroke-width="0.2">1</text>
<line x1="882" y1="782.5" x2="1170" y2="782.5" stroke="#0b4a8c" stroke-width="1" stroke-dasharray="3 3" class="crisp"/>
<text x="874.6" y="786.1" font-size="10" fill="#0b4a8c" text-anchor="middle" font-weight="normal" font-family="'Liberation Sans',sans-serif" xml:space="preserve"  stroke="#0b4a8c" stroke-width="0.2">2</text>
<line x1="882" y1="765.5" x2="1170" y2="765.5" stroke="#0b4a8c" stroke-width="1" stroke-dasharray="3 3" class="crisp"/>
<text x="874.6" y="769.1" font-size="10" fill="#0b4a8c" text-anchor="middle" font-weight="normal" font-family="'Liberation Sans',sans-serif" xml:space="preserve"  stroke="#0b4a8c" stroke-width="0.2">3</text>
<line x1="882" y1="748.5" x2="1170" y2="748.5" stroke="#0b4a8c" stroke-width="1" stroke-dasharray="3 3" class="crisp"/>
<text x="874.6" y="752.1" font-size="10" fill="#0b4a8c" text-anchor="middle" font-weight="normal" font-family="'Liberation Sans',sans-serif" xml:space="preserve"  stroke="#0b4a8c" stroke-width="0.2">4</text>
<line x1="882" y1="731.5" x2="1170" y2="731.5" stroke="#0b4a8c" stroke-width="1" stroke-dasharray="3 3" class="crisp"/>
<text x="874.6" y="735.1" font-size="10" fill="#0b4a8c" text-anchor="middle" font-weight="normal" font-family="'Liberation Sans',sans-serif" xml:space="preserve"  stroke="#0b4a8c" stroke-width="0.2">5</text>
<line x1="882" y1="714.5" x2="1170" y2="714.5" stroke="#0b4a8c" stroke-width="1" stroke-dasharray="3 3" class="crisp"/>
<text x="874.6" y="718.1" font-size="10" fill="#0b4a8c" text-anchor="middle" font-weight="normal" font-family="'Liberation Sans',sans-serif" xml:space="preserve"  stroke="#0b4a8c" stroke-width="0.2">6</text>
<line x1="882" y1="697.5" x2="1170" y2="697.5" stroke="#0b4a8c" stroke-width="1" stroke-dasharray="3 3" class="crisp"/>
<text x="874.6" y="701.1" font-size="10" fill="#0b4a8c" text-anchor="middle" font-weight="normal" font-family="'Liberation Sans',sans-serif" xml:space="preserve"  stroke="#0b4a8c" stroke-width="0.2">7</text>
<line x1="882" y1="680.5" x2="1170" y2="680.5" stroke="#0b4a8c" stroke-width="1" stroke-dasharray="3 3" class="crisp"/>
<text x="874.6" y="684.1" font-size="10" fill="#0b4a8c" text-anchor="middle" font-weight="normal" font-family="'Liberation Sans',sans-serif" xml:space="preserve"  stroke="#0b4a8c" stroke-width="0.2">8</text>
<line x1="882" y1="663.5" x2="1170" y2="663.5" stroke="#0b4a8c" stroke-width="1" stroke-dasharray="3 3" class="crisp"/>
<text x="874.6" y="667.1" font-size="10" fill="#0b4a8c" text-anchor="middle" font-weight="normal" font-family="'Liberation Sans',sans-serif" xml:space="preserve"  stroke="#0b4a8c" stroke-width="0.2">9</text>
<line x1="882" y1="646.5" x2="1170" y2="646.5" stroke="#0b4a8c" stroke-width="1" stroke-dasharray="3 3" class="crisp"/>
<text x="874.6" y="650.1" font-size="10" fill="#0b4a8c" text-anchor="middle" font-weight="normal" font-family="'Liberation Sans',sans-serif" xml:space="preserve"  stroke="#0b4a8c" stroke-width="0.2">10</text>
<line x1="882" y1="629.5" x2="1170" y2="629.5" stroke="#0b4a8c" stroke-width="1" stroke-dasharray="3 3" class="crisp"/>
<text x="874.6" y="633.1" font-size="10" fill="#0b4a8c" text-anchor="middle" font-weight="normal" font-family="'Liberation Sans',sans-serif" xml:space="preserve"  stroke="#0b4a8c" stroke-width="0.2">11</text>
<rect x="909" y="629" width="3" height="44" fill="#008b00" />
<rect x="909" y="770" width="3" height="24" fill="#008b00" />
<rect x="896.5" y="674.5" width="24" height="94" fill="none" stroke="#008b00" stroke-width="3" class="crisp"/>
<rect x="895" y="723" width="27" height="3" fill="#008b00" />
<rect x="953" y="673" width="3" height="65" fill="#0a8f0a" />
<rect x="953" y="801" width="3" height="10.5" fill="#0a8f0a" />
<rect x="942.5" y="739.5" width="24" height="60" fill="none" stroke="#0a8f0a" stroke-width="3" class="crisp"/>
<rect x="941" y="774" width="27" height="3" fill="#0a8f0a" />
<rect x="999" y="720" width="3" height="32" fill="#0d920d" />
<rect x="999" y="806" width="3" height="9" fill="#0d920d" />
<rect x="988.5" y="753.5" width="24" height="51" fill="none" stroke="#0d920d" stroke-width="3" class="crisp"/>
<rect x="987" y="786" width="27" height="3" fill="#0d920d" />
<rect x="1045" y="739" width="3" height="31" fill="#1ecd1e" />
<rect x="1045" y="811.5" width="3" height="3.5" fill="#1ecd1e" />
<rect x="1034.5" y="771.5" width="24" height="38.5" fill="none" stroke="#1ecd1e" stroke-width="3" class="crisp"/>
<rect x="1033" y="794" width="27" height="3" fill="#1ecd1e" />
<rect x="1091" y="753" width="3" height="28" fill="#00d700" />
<rect x="1080.5" y="782.5" width="24" height="32" fill="none" stroke="#00d700" stroke-width="3" class="crisp"/>
<rect x="1079" y="801" width="27" height="3" fill="#00d700" />
<rect x="1137" y="790" width="3" height="13" fill="#cd8500" />
<rect x="1126.5" y="804.5" width="24" height="12" fill="none" stroke="#cd8500" stroke-width="3" class="crisp"/>
<rect x="1125" y="811" width="27" height="3" fill="#cd8500" />
<rect x="868" y="815" width="302" height="2" fill="#cd8500" />
<text x="908.5" y="823.5" font-size="7.5" fill="#000" text-anchor="middle" font-weight="normal" font-family="'DejaVu Sans','Liberation Sans',sans-serif" xml:space="preserve" textLength="21" lengthAdjust="spacingAndGlyphs" stroke="#000" stroke-width="0.1">EF4+</text>
<text x="954.5" y="823.5" font-size="7.5" fill="#000" text-anchor="middle" font-weight="normal" font-family="'DejaVu Sans','Liberation Sans',sans-serif" xml:space="preserve" textLength="16" lengthAdjust="spacingAndGlyphs" stroke="#000" stroke-width="0.1">EF3</text>
<text x="1000.5" y="823.5" font-size="7.5" fill="#000" text-anchor="middle" font-weight="normal" font-family="'DejaVu Sans','Liberation Sans',sans-serif" xml:space="preserve" textLength="16" lengthAdjust="spacingAndGlyphs" stroke="#000" stroke-width="0.1">EF2</text>
<text x="1046.5" y="823.5" font-size="7.5" fill="#000" text-anchor="middle" font-weight="normal" font-family="'DejaVu Sans','Liberation Sans',sans-serif" xml:space="preserve" textLength="16" lengthAdjust="spacingAndGlyphs" stroke="#000" stroke-width="0.1">EF1</text>
<text x="1092.5" y="823.5" font-size="7.5" fill="#000" text-anchor="middle" font-weight="normal" font-family="'DejaVu Sans','Liberation Sans',sans-serif" xml:space="preserve" textLength="16" lengthAdjust="spacingAndGlyphs" stroke="#000" stroke-width="0.1">EF0</text>
<text x="1138.5" y="823.5" font-size="7.5" fill="#000" text-anchor="middle" font-weight="normal" font-family="'DejaVu Sans','Liberation Sans',sans-serif" xml:space="preserve" textLength="32" lengthAdjust="spacingAndGlyphs" stroke="#000" stroke-width="0.1">NONTOR</text>
<rect x="1020.5" y="630.5" width="150" height="92" fill="#fff" stroke="#000" stroke-width="1" class="crisp"/>
<rect x="1021" y="653" width="149" height="1" fill="#000" />
<line x1="1021" y1="697.5" x2="1170" y2="697.5" stroke="#000" stroke-width="1" stroke-dasharray="3 2" class="crisp"/>
<text x="1025.4" y="640.7" font-size="10" fill="#000" text-anchor="start" font-weight="normal" font-family="'Liberation Sans',sans-serif" xml:space="preserve" textLength="138.8" lengthAdjust="spacing" stroke="#000" stroke-width="0.2">Prob EF2+ Torn with supercell</text>
<text x="1025.4" y="650.7" font-size="10" fill="#000" text-anchor="start" font-weight="normal" font-family="'Liberation Sans',sans-serif" xml:space="preserve" textLength="135.2" lengthAdjust="spacing" stroke="#000" stroke-width="0.2">Sounding CLIMO = .15 sigtor</text>
<text x="1028.8" y="662.8" font-size="7.5" fill="#000" text-anchor="start" font-weight="normal" font-family="'DejaVu Sans','Liberation Sans',sans-serif" xml:space="preserve" textLength="73.7" lengthAdjust="spacingAndGlyphs" stroke="#000" stroke-width="0.1">based on MLCAPE:</text>
<text x="1154.2" y="664.4" font-size="10.4" fill="#cd8500" text-anchor="end" font-weight="normal" font-family="'Liberation Sans',sans-serif" xml:space="preserve"  stroke="#cd8500" stroke-width="0.2">0.00</text>
<text x="1028.8" y="672.8" font-size="7.5" fill="#000" text-anchor="start" font-weight="normal" font-family="'DejaVu Sans','Liberation Sans',sans-serif" xml:space="preserve" textLength="65.4" lengthAdjust="spacingAndGlyphs" stroke="#000" stroke-width="0.1">based on MLLCL:</text>
<text x="1154.2" y="674.4" font-size="10.4" fill="#cd8500" text-anchor="end" font-weight="normal" font-family="'Liberation Sans',sans-serif" xml:space="preserve"  stroke="#cd8500" stroke-width="0.2">0.00</text>
<text x="1028.8" y="684.7" font-size="7.5" fill="#000" text-anchor="start" font-weight="normal" font-family="'DejaVu Sans','Liberation Sans',sans-serif" xml:space="preserve" textLength="61.4" lengthAdjust="spacingAndGlyphs" stroke="#000" stroke-width="0.1">based on ESRH:</text>
<text x="1154.2" y="686.3" font-size="10.4" fill="#cd8500" text-anchor="end" font-weight="normal" font-family="'Liberation Sans',sans-serif" xml:space="preserve"  stroke="#cd8500" stroke-width="0.2">0.06</text>
<text x="1028.8" y="694.7" font-size="7.5" fill="#000" text-anchor="start" font-weight="normal" font-family="'DejaVu Sans','Liberation Sans',sans-serif" xml:space="preserve" textLength="62.2" lengthAdjust="spacingAndGlyphs" stroke="#000" stroke-width="0.1">based on EBWD:</text>
<text x="1154.2" y="696.3" font-size="10.4" fill="#cd8500" text-anchor="end" font-weight="normal" font-family="'Liberation Sans',sans-serif" xml:space="preserve"  stroke="#cd8500" stroke-width="0.2">0.00</text>
<text x="1028.8" y="708.5" font-size="7.5" fill="#000" text-anchor="start" font-weight="normal" font-family="'DejaVu Sans','Liberation Sans',sans-serif" xml:space="preserve" textLength="77.5" lengthAdjust="spacingAndGlyphs" stroke="#000" stroke-width="0.1">based on STP_fixed:</text>
<text x="1154.2" y="710.1" font-size="10.4" fill="#cd8500" text-anchor="end" font-weight="normal" font-family="'Liberation Sans',sans-serif" xml:space="preserve"  stroke="#cd8500" stroke-width="0.2">0.05</text>
<text x="1028.8" y="718.5" font-size="7.5" fill="#000" text-anchor="start" font-weight="normal" font-family="'DejaVu Sans','Liberation Sans',sans-serif" xml:space="preserve" textLength="90.4" lengthAdjust="spacingAndGlyphs" stroke="#000" stroke-width="0.1">based on STP_effective:</text>
<text x="1154.2" y="720.1" font-size="10.4" fill="#cd8500" text-anchor="end" font-weight="normal" font-family="'Liberation Sans',sans-serif" xml:space="preserve"  stroke="#cd8500" stroke-width="0.2">0.06</text>
</svg>
</body></html>
